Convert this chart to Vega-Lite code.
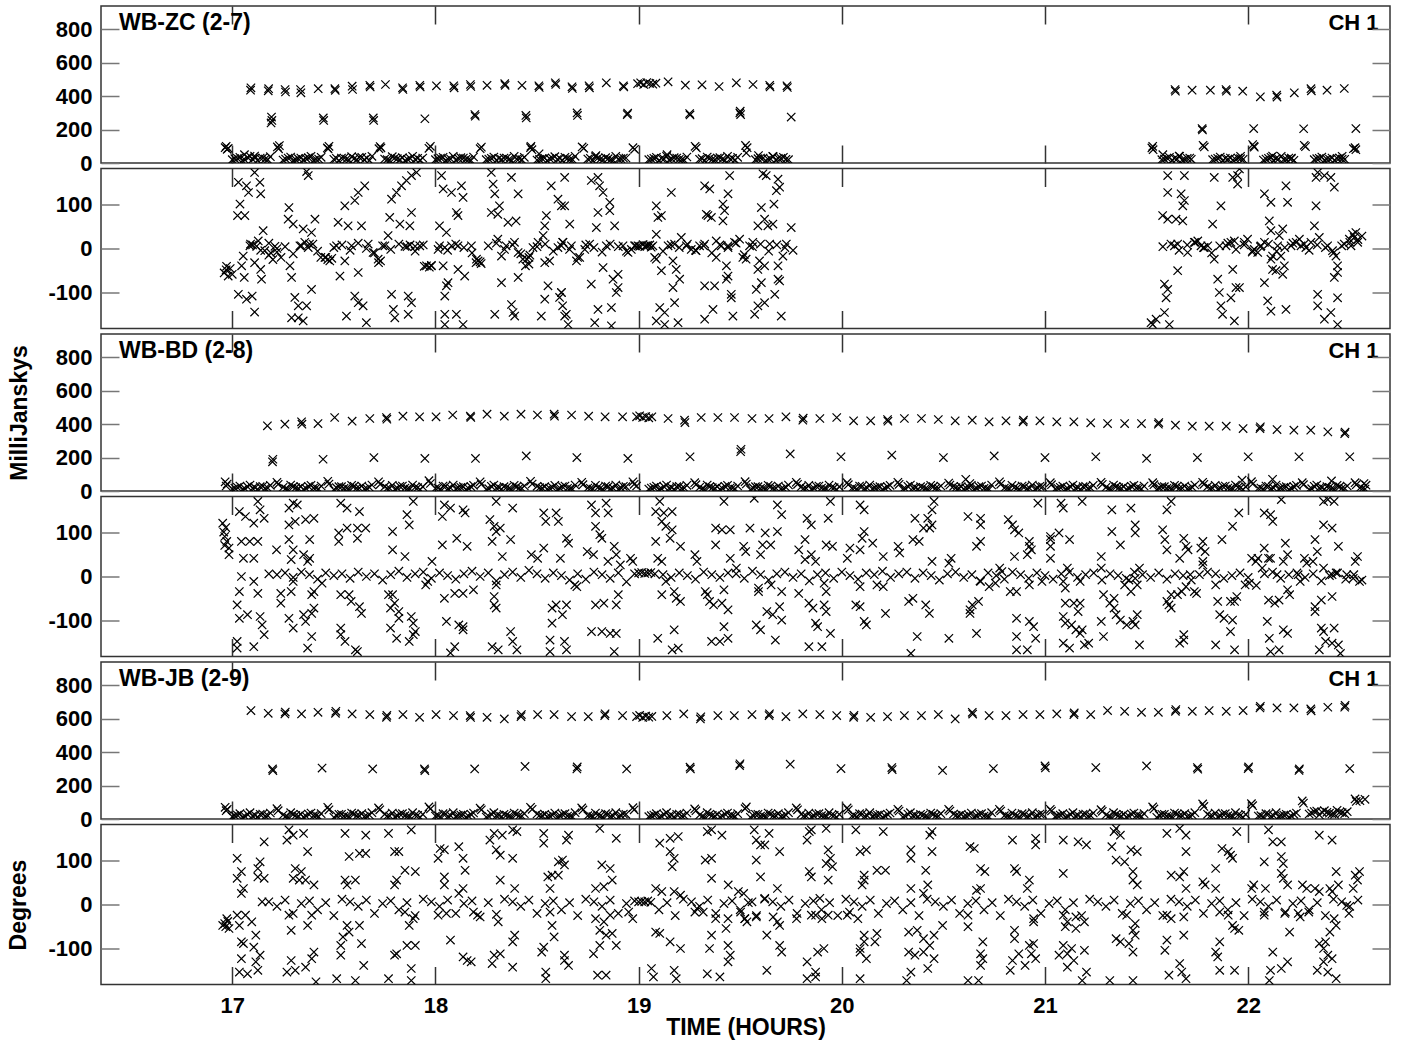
{
"$schema":"https://vega.github.io/schema/vega-lite/v6.json",
"background":"#ffffff",
"padding":{"left":7,"right":11,"top":4,"bottom":5},
"config":{
"view":{"stroke":"#333333","strokeWidth":1.5},
"axis":{"tickSize":-18,"tickWidth":1.5,"domain":false,"grid":false,"labelFont":"Liberation Sans","labelFontSize":22,"labelFontWeight":"bold","labelColor":"#000000","titleFont":"Liberation Sans","titleFontSize":23,"titleFontWeight":"bold","titleColor":"#000000"}
},
"datasets":{
"za":[
{"t":16.965,"v":92},{"t":16.975,"v":82},{"t":16.97,"v":100},{"t":16.98,"v":88},{"t":17.222,"v":96},{"t":17.228,"v":85},{"t":17.232,"v":104},{"t":17.468,"v":90},{"t":17.476,"v":100},{"t":17.472,"v":84},{"t":17.722,"v":86},{"t":17.728,"v":98},{"t":17.732,"v":90},{"t":17.968,"v":88},{"t":17.975,"v":100},{"t":18.22,"v":86},{"t":18.226,"v":95},{"t":18.468,"v":92},{"t":18.475,"v":80},{"t":18.47,"v":100},{"t":18.722,"v":96},{"t":18.73,"v":88},{"t":18.972,"v":92},{"t":18.98,"v":82},{"t":19.278,"v":100},{"t":19.284,"v":90},{"t":19.526,"v":105},{"t":19.534,"v":92},{"t":19.53,"v":60},{"t":21.526,"v":90},{"t":21.532,"v":80},{"t":21.53,"v":100},{"t":21.778,"v":106},{"t":21.784,"v":96},{"t":22.022,"v":110},{"t":22.028,"v":100},{"t":22.03,"v":95},{"t":22.276,"v":106},{"t":22.282,"v":98},{"t":22.518,"v":86},{"t":22.526,"v":92},{"t":22.53,"v":80},
{"t":17.0,"v":20},{"t":17.025,"v":28},{"t":17.05,"v":14},{"t":17.075,"v":34},{"t":17.1,"v":22},{"t":17.125,"v":16},{"t":17.15,"v":30},{"t":17.175,"v":20},{"t":17.06,"v":50},{"t":17.11,"v":42},
{"t":17.25,"v":18},{"t":17.275,"v":30},{"t":17.3,"v":14},{"t":17.325,"v":26},{"t":17.35,"v":20},{"t":17.375,"v":32},{"t":17.4,"v":16},{"t":17.425,"v":24},
{"t":17.5,"v":22},{"t":17.525,"v":14},{"t":17.55,"v":30},{"t":17.575,"v":18},{"t":17.6,"v":26},{"t":17.625,"v":34},{"t":17.65,"v":20},{"t":17.675,"v":15},
{"t":17.75,"v":24},{"t":17.775,"v":16},{"t":17.8,"v":30},{"t":17.825,"v":20},{"t":17.85,"v":14},{"t":17.875,"v":28},{"t":17.9,"v":22},{"t":17.925,"v":18},
{"t":18.0,"v":20},{"t":18.025,"v":30},{"t":18.05,"v":14},{"t":18.075,"v":24},{"t":18.1,"v":18},{"t":18.125,"v":32},{"t":18.15,"v":22},{"t":18.175,"v":15},
{"t":18.25,"v":20},{"t":18.275,"v":28},{"t":18.3,"v":16},{"t":18.325,"v":22},{"t":18.35,"v":30},{"t":18.375,"v":14},{"t":18.4,"v":24},{"t":18.425,"v":20},
{"t":18.5,"v":18},{"t":18.525,"v":26},{"t":18.55,"v":14},{"t":18.575,"v":30},{"t":18.6,"v":22},{"t":18.625,"v":16},{"t":18.65,"v":28},{"t":18.675,"v":20},{"t":18.51,"v":55},
{"t":18.75,"v":24},{"t":18.775,"v":14},{"t":18.8,"v":30},{"t":18.825,"v":20},{"t":18.85,"v":26},{"t":18.875,"v":16},{"t":18.9,"v":22},{"t":18.925,"v":30},{"t":18.79,"v":45},
{"t":19.05,"v":20},{"t":19.075,"v":28},{"t":19.1,"v":14},{"t":19.125,"v":24},{"t":19.15,"v":18},{"t":19.175,"v":32},{"t":19.2,"v":22},{"t":19.225,"v":16},{"t":19.14,"v":50},
{"t":19.3,"v":22},{"t":19.325,"v":14},{"t":19.35,"v":28},{"t":19.375,"v":20},{"t":19.4,"v":32},{"t":19.425,"v":16},{"t":19.45,"v":24},{"t":19.475,"v":18},
{"t":19.575,"v":20},{"t":19.6,"v":30},{"t":19.625,"v":14},{"t":19.65,"v":24},{"t":19.675,"v":18},{"t":19.7,"v":28},{"t":19.725,"v":22},{"t":19.59,"v":45},{"t":19.66,"v":40},
{"t":21.575,"v":20},{"t":21.6,"v":30},{"t":21.625,"v":16},{"t":21.65,"v":24},{"t":21.675,"v":18},{"t":21.7,"v":28},{"t":21.72,"v":22},{"t":21.58,"v":50},{"t":21.66,"v":42},
{"t":21.825,"v":20},{"t":21.85,"v":28},{"t":21.875,"v":14},{"t":21.9,"v":24},{"t":21.925,"v":18},{"t":21.95,"v":30},{"t":21.975,"v":22},
{"t":22.075,"v":18},{"t":22.1,"v":28},{"t":22.125,"v":14},{"t":22.15,"v":24},{"t":22.175,"v":20},{"t":22.2,"v":30},{"t":22.225,"v":16},{"t":22.12,"v":42},
{"t":22.325,"v":20},{"t":22.35,"v":28},{"t":22.375,"v":16},{"t":22.4,"v":24},{"t":22.425,"v":18},{"t":22.45,"v":30},{"t":22.475,"v":22},
{"t":17.0125,"v":26},{"t":17.0625,"v":18},{"t":17.1125,"v":30},{"t":17.1625,"v":24},{"t":17.2625,"v":24},{"t":17.3125,"v":20},{"t":17.3625,"v":28},{"t":17.4125,"v":22},{"t":17.5125,"v":28},{"t":17.5625,"v":24},{"t":17.6125,"v":20},{"t":17.6625,"v":30},{"t":17.7625,"v":20},{"t":17.8125,"v":26},{"t":17.8625,"v":22},{"t":17.9125,"v":28},{"t":18.0125,"v":26},{"t":18.0625,"v":22},{"t":18.1125,"v":28},{"t":18.1625,"v":20},{"t":18.2625,"v":24},{"t":18.3125,"v":28},{"t":18.3625,"v":22},{"t":18.4125,"v":26},{"t":18.5125,"v":22},{"t":18.5625,"v":26},{"t":18.6125,"v":28},{"t":18.6625,"v":22},{"t":18.7625,"v":28},{"t":18.8125,"v":24},{"t":18.8625,"v":20},{"t":18.9125,"v":26},{"t":19.0625,"v":24},{"t":19.1125,"v":28},{"t":19.1625,"v":26},{"t":19.2125,"v":20},{"t":19.3125,"v":26},{"t":19.3625,"v":22},{"t":19.4125,"v":24},{"t":19.4625,"v":28},{"t":19.5875,"v":26},{"t":19.6375,"v":22},{"t":19.6875,"v":28},{"t":19.7375,"v":20},{"t":21.5875,"v":24},{"t":21.6375,"v":28},{"t":21.6875,"v":22},{"t":21.8375,"v":24},{"t":21.8875,"v":28},{"t":21.9375,"v":22},{"t":21.9625,"v":26},{"t":22.0875,"v":24},{"t":22.1375,"v":28},{"t":22.1875,"v":22},{"t":22.2125,"v":26},{"t":22.3375,"v":26},{"t":22.3875,"v":22},{"t":22.4375,"v":28},{"t":22.4625,"v":24},
{"t":17.0375,"v":34},{"t":17.0875,"v":40},{"t":17.1375,"v":30},{"t":17.1875,"v":38},{"t":17.2875,"v":36},{"t":17.3375,"v":30},{"t":17.3875,"v":40},{"t":17.4375,"v":34},{"t":17.5375,"v":30},{"t":17.5875,"v":38},{"t":17.6375,"v":34},{"t":17.6875,"v":40},{"t":17.7875,"v":38},{"t":17.8375,"v":32},{"t":17.8875,"v":40},{"t":17.9375,"v":30},{"t":18.0375,"v":34},{"t":18.0875,"v":40},{"t":18.1375,"v":30},{"t":18.1875,"v":36},{"t":18.2875,"v":36},{"t":18.3375,"v":30},{"t":18.3875,"v":40},{"t":18.4375,"v":34},{"t":18.5375,"v":30},{"t":18.5875,"v":38},{"t":18.6375,"v":34},{"t":18.6875,"v":40},{"t":18.7875,"v":38},{"t":18.8375,"v":32},{"t":18.8875,"v":40},{"t":18.9375,"v":30},{"t":19.0875,"v":34},{"t":19.1375,"v":40},{"t":19.1875,"v":30},{"t":19.2375,"v":36},{"t":19.3375,"v":36},{"t":19.3875,"v":30},{"t":19.4375,"v":40},{"t":19.4875,"v":34},{"t":19.6125,"v":30},{"t":19.6625,"v":38},{"t":19.7125,"v":34},{"t":21.6125,"v":34},{"t":21.6625,"v":40},{"t":21.7125,"v":30},{"t":21.8625,"v":36},{"t":21.9125,"v":30},{"t":21.9625,"v":40},{"t":22.1125,"v":34},{"t":22.1625,"v":40},{"t":22.2125,"v":30},{"t":22.3625,"v":36},{"t":22.4125,"v":30},{"t":22.4625,"v":40},
{"t":17.09,"v":436},{"t":17.092,"v":450},{"t":17.177,"v":432},{"t":17.179,"v":445},{"t":17.26,"v":440},{"t":17.262,"v":425},{"t":17.336,"v":440},{"t":17.338,"v":420},{"t":17.423,"v":445},{"t":17.505,"v":445},{"t":17.507,"v":435},{"t":17.59,"v":460},{"t":17.592,"v":440},{"t":17.677,"v":465},{"t":17.679,"v":455},{"t":17.754,"v":470},{"t":17.838,"v":450},{"t":17.84,"v":440},{"t":17.923,"v":465},{"t":17.925,"v":455},{"t":18.005,"v":462},{"t":18.09,"v":462},{"t":18.092,"v":450},{"t":18.172,"v":470},{"t":18.174,"v":458},{"t":18.254,"v":465},{"t":18.341,"v":475},{"t":18.343,"v":465},{"t":18.426,"v":465},{"t":18.509,"v":462},{"t":18.511,"v":452},{"t":18.59,"v":480},{"t":18.592,"v":470},{"t":18.672,"v":456},{"t":18.674,"v":446},{"t":18.756,"v":462},{"t":18.758,"v":450},{"t":18.841,"v":480},{"t":18.925,"v":462},{"t":18.927,"v":455},{"t":18.995,"v":475},{"t":19.01,"v":480},{"t":19.025,"v":470},{"t":19.04,"v":482},{"t":19.055,"v":476},{"t":19.07,"v":472},{"t":19.085,"v":478},{"t":19.145,"v":486},{"t":19.23,"v":466},{"t":19.312,"v":468},{"t":19.396,"v":458},{"t":19.481,"v":480},{"t":19.563,"v":470},{"t":19.645,"v":465},{"t":19.647,"v":455},{"t":19.73,"v":462},{"t":19.732,"v":452},
{"t":21.64,"v":440},{"t":21.642,"v":430},{"t":21.724,"v":436},{"t":21.814,"v":436},{"t":21.891,"v":440},{"t":21.893,"v":430},{"t":21.973,"v":430},{"t":22.06,"v":396},{"t":22.14,"v":406},{"t":22.142,"v":395},{"t":22.227,"v":420},{"t":22.309,"v":445},{"t":22.311,"v":432},{"t":22.388,"v":436},{"t":22.473,"v":446},
{"t":17.193,"v":275},{"t":17.195,"v":255},{"t":17.191,"v":240},{"t":17.448,"v":270},{"t":17.45,"v":255},{"t":17.694,"v":270},{"t":17.696,"v":255},{"t":17.948,"v":265},{"t":18.194,"v":290},{"t":18.196,"v":280},{"t":18.445,"v":285},{"t":18.447,"v":270},{"t":18.697,"v":300},{"t":18.699,"v":285},{"t":18.944,"v":290},{"t":18.946,"v":298},{"t":19.251,"v":296},{"t":19.253,"v":288},{"t":19.5,"v":310},{"t":19.502,"v":290},{"t":19.498,"v":300},{"t":19.751,"v":275},{"t":21.773,"v":206},{"t":21.775,"v":198},{"t":22.027,"v":206},{"t":22.273,"v":205},{"t":22.53,"v":206}
],
"zp":[
{"t":16.96,"v":-55},{"t":16.97,"v":-48},{"t":16.98,"v":-62},{"t":16.99,"v":-45},{"t":16.972,"v":-40},{"t":17.0,"v":-58},
{"t":17.03,"v":149},{"t":17.07,"v":141},{"t":17.08,"v":126},{"t":17.11,"v":171},{"t":17.136,"v":149},{"t":17.14,"v":123},{"t":17.038,"v":100},{"t":17.026,"v":74},{"t":17.062,"v":74},{"t":17.054,"v":-17},{"t":17.046,"v":-39},{"t":17.059,"v":-65},{"t":17.087,"v":6},{"t":17.11,"v":-32},{"t":17.14,"v":-47},{"t":17.144,"v":-69},{"t":17.152,"v":40},{"t":17.03,"v":-103},{"t":17.07,"v":-114},{"t":17.098,"v":-107},{"t":17.11,"v":-143},{"t":17.128,"v":17},
{"t":17.09,"v":10},{"t":17.12,"v":5},{"t":17.16,"v":-5},{"t":17.18,"v":-15},{"t":17.2,"v":-25},{"t":17.22,"v":0},{"t":17.24,"v":-20},{"t":17.19,"v":-10},{"t":17.21,"v":5},
{"t":17.279,"v":92},{"t":17.3,"v":55},{"t":17.374,"v":164},{"t":17.366,"v":173},{"t":17.275,"v":66},{"t":17.284,"v":-39},{"t":17.292,"v":-65},{"t":17.308,"v":-110},{"t":17.325,"v":-129},{"t":17.292,"v":-156},{"t":17.325,"v":-156},{"t":17.349,"v":-163},{"t":17.366,"v":-129},{"t":17.39,"v":-92},{"t":17.407,"v":66},{"t":17.39,"v":36},{"t":17.349,"v":44},{"t":17.333,"v":6},{"t":17.357,"v":14},{"t":17.397,"v":10},{"t":17.374,"v":2},
{"t":17.436,"v":-20},{"t":17.456,"v":-20},{"t":17.47,"v":-25},{"t":17.48,"v":-28},{"t":17.49,"v":-22},{"t":17.513,"v":6},{"t":17.53,"v":-62},{"t":17.554,"v":96},{"t":17.587,"v":6},{"t":17.603,"v":108},{"t":17.62,"v":126},{"t":17.652,"v":141},{"t":17.521,"v":59},{"t":17.57,"v":51},{"t":17.636,"v":51},{"t":17.554,"v":-28},{"t":17.62,"v":-54},{"t":17.603,"v":-107},{"t":17.62,"v":-122},{"t":17.644,"v":-129},{"t":17.562,"v":-152},{"t":17.66,"v":-167},
{"t":17.669,"v":10},{"t":17.693,"v":-9},{"t":17.718,"v":-24},{"t":17.73,"v":-28},{"t":17.72,"v":-32},{"t":17.751,"v":6},{"t":17.767,"v":29},{"t":17.775,"v":70},{"t":17.784,"v":111},{"t":17.808,"v":126},{"t":17.833,"v":141},{"t":17.857,"v":153},{"t":17.882,"v":164},{"t":17.907,"v":171},{"t":17.825,"v":55},{"t":17.874,"v":51},{"t":17.882,"v":81},{"t":17.784,"v":-103},{"t":17.793,"v":-137},{"t":17.8,"v":-156},{"t":17.866,"v":-107},{"t":17.882,"v":-122},{"t":17.866,"v":-148},{"t":17.85,"v":5},{"t":17.875,"v":8},{"t":17.9,"v":5},{"t":17.923,"v":6},{"t":17.956,"v":-39},{"t":17.98,"v":-39},{"t":17.97,"v":-42},{"t":17.945,"v":-40},
{"t":18.03,"v":164},{"t":18.038,"v":134},{"t":18.079,"v":126},{"t":18.128,"v":141},{"t":18.136,"v":115},{"t":18.103,"v":81},{"t":18.111,"v":74},{"t":18.02,"v":51},{"t":18.054,"v":36},{"t":18.079,"v":6},{"t":18.111,"v":6},{"t":18.013,"v":-2},{"t":18.046,"v":2},{"t":18.038,"v":-39},{"t":18.062,"v":-77},{"t":18.054,"v":-84},{"t":18.046,"v":-107},{"t":18.111,"v":-47},{"t":18.144,"v":-62},{"t":18.046,"v":-148},{"t":18.103,"v":-148},{"t":18.136,"v":-171},{"t":18.046,"v":-171},
{"t":18.177,"v":6},{"t":18.202,"v":-24},{"t":18.21,"v":-28},{"t":18.2,"v":-32},{"t":18.225,"v":-34},{"t":18.275,"v":171},{"t":18.284,"v":145},{"t":18.374,"v":160},{"t":18.292,"v":123},{"t":18.275,"v":81},{"t":18.307,"v":77},{"t":18.315,"v":96},{"t":18.357,"v":59},{"t":18.397,"v":62},{"t":18.407,"v":123},{"t":18.307,"v":21},{"t":18.348,"v":6},{"t":18.389,"v":14},{"t":18.407,"v":-9},{"t":18.43,"v":-24},{"t":18.45,"v":-24},{"t":18.465,"v":-15},{"t":18.48,"v":2},{"t":18.443,"v":-39},{"t":18.46,"v":-35},{"t":18.505,"v":14},{"t":18.53,"v":29},{"t":18.538,"v":51},{"t":18.546,"v":74},{"t":18.57,"v":141},{"t":18.603,"v":111},{"t":18.636,"v":96},{"t":18.538,"v":-32},{"t":18.562,"v":-28},{"t":18.603,"v":2},{"t":18.626,"v":14},{"t":18.325,"v":-17},{"t":18.325,"v":-77},{"t":18.407,"v":-65},{"t":18.374,"v":-126},{"t":18.382,"v":-144},{"t":18.39,"v":-152},{"t":18.292,"v":-148},{"t":18.538,"v":-114},{"t":18.554,"v":-84},{"t":18.521,"v":-152},{"t":18.62,"v":-99},{"t":18.626,"v":-129},{"t":18.636,"v":-152},{"t":18.611,"v":-110},
{"t":18.636,"v":160},{"t":18.62,"v":96},{"t":18.661,"v":55},{"t":18.628,"v":14},{"t":18.669,"v":6},{"t":18.694,"v":-28},{"t":18.71,"v":-20},{"t":18.735,"v":-2},{"t":18.759,"v":10},{"t":18.767,"v":153},{"t":18.8,"v":160},{"t":18.808,"v":141},{"t":18.825,"v":126},{"t":18.858,"v":104},{"t":18.858,"v":85},{"t":18.8,"v":81},{"t":18.792,"v":47},{"t":18.882,"v":51},{"t":18.825,"v":-43},{"t":18.767,"v":-80},{"t":18.874,"v":-69},{"t":18.899,"v":-88},{"t":18.89,"v":-99},{"t":18.899,"v":-58},{"t":18.62,"v":-99},{"t":18.644,"v":-148},{"t":18.653,"v":-171},{"t":18.8,"v":-137},{"t":18.784,"v":-167},{"t":18.866,"v":-174},{"t":18.866,"v":-133},{"t":18.841,"v":6},{"t":18.923,"v":6},{"t":18.948,"v":-9},{"t":18.964,"v":-2},{"t":18.98,"v":6},{"t":18.997,"v":6},{"t":19.022,"v":9},{"t":19.038,"v":6},{"t":19.055,"v":8},{"t":19.07,"v":6},{"t":19.079,"v":-20},{"t":19.087,"v":32},{"t":19.095,"v":70},{"t":19.112,"v":74},{"t":19.087,"v":96},{"t":19.161,"v":126},{"t":19.087,"v":-24},{"t":19.112,"v":-50},{"t":19.169,"v":-28},{"t":19.185,"v":-47},{"t":19.202,"v":-69},{"t":19.169,"v":-88},{"t":19.177,"v":-122},{"t":19.104,"v":-133},{"t":19.128,"v":-144},{"t":19.087,"v":-163},{"t":19.128,"v":-171},{"t":19.194,"v":-167},{"t":19.145,"v":6},{"t":19.177,"v":10},{"t":19.21,"v":25},{"t":19.235,"v":6},{"t":19.259,"v":-2},{"t":19.283,"v":-5},{"t":19.3,"v":6},{"t":19.325,"v":10},{"t":19.325,"v":141},{"t":19.35,"v":134},{"t":19.341,"v":74},{"t":19.358,"v":70},{"t":19.333,"v":77},{"t":19.415,"v":100},{"t":19.423,"v":85},{"t":19.44,"v":123},{"t":19.448,"v":164},{"t":19.415,"v":62},{"t":19.382,"v":17},{"t":19.407,"v":6},{"t":19.44,"v":6},{"t":19.472,"v":14},{"t":19.497,"v":21},{"t":19.382,"v":-20},{"t":19.432,"v":-39},{"t":19.44,"v":-62},{"t":19.432,"v":-69},{"t":19.325,"v":-84},{"t":19.374,"v":-84},{"t":19.456,"v":-103},{"t":19.456,"v":-111},{"t":19.366,"v":-137},{"t":19.325,"v":-159},{"t":19.464,"v":-152},{"t":19.513,"v":-20},{"t":19.529,"v":-24},{"t":19.546,"v":6},{"t":19.562,"v":14},{"t":19.587,"v":51},{"t":19.604,"v":92},{"t":19.62,"v":66},{"t":19.636,"v":51},{"t":19.661,"v":55},{"t":19.666,"v":100},{"t":19.612,"v":168},{"t":19.628,"v":164},{"t":19.686,"v":156},{"t":19.694,"v":138},{"t":19.678,"v":130},{"t":19.645,"v":10},{"t":19.686,"v":-39},{"t":19.71,"v":-17},{"t":19.727,"v":10},{"t":19.751,"v":47},{"t":19.595,"v":-28},{"t":19.587,"v":-47},{"t":19.62,"v":-39},{"t":19.579,"v":-92},{"t":19.604,"v":-77},{"t":19.62,"v":-122},{"t":19.587,"v":-129},{"t":19.67,"v":-103},{"t":19.694,"v":-73},{"t":19.686,"v":-69},{"t":19.702,"v":-152},{"t":19.571,"v":-148},
{"t":21.53,"v":-171},{"t":21.522,"v":-167},{"t":21.547,"v":-159},{"t":21.588,"v":-144},{"t":21.612,"v":-171},{"t":21.596,"v":-111},{"t":21.604,"v":-92},{"t":21.588,"v":-80},{"t":21.653,"v":-50},{"t":21.579,"v":74},{"t":21.604,"v":66},{"t":21.645,"v":66},{"t":21.678,"v":62},{"t":21.604,"v":126},{"t":21.67,"v":123},{"t":21.686,"v":108},{"t":21.678,"v":96},{"t":21.604,"v":164},{"t":21.686,"v":164},{"t":21.637,"v":6},{"t":21.653,"v":10},{"t":21.702,"v":-9},{"t":21.735,"v":14},{"t":21.752,"v":17},{"t":21.768,"v":6},{"t":21.784,"v":2},{"t":21.801,"v":6},{"t":21.833,"v":-24},{"t":21.825,"v":55},{"t":21.833,"v":160},{"t":21.866,"v":96},{"t":21.85,"v":-69},{"t":21.858,"v":-99},{"t":21.866,"v":-129},{"t":21.874,"v":-148},{"t":21.891,"v":6},{"t":21.915,"v":14},{"t":21.932,"v":17},{"t":21.94,"v":-88},{"t":21.915,"v":-111},{"t":21.957,"v":-88},{"t":21.924,"v":-47},{"t":21.932,"v":-163},{"t":21.924,"v":160},{"t":21.948,"v":164},{"t":21.957,"v":179},{"t":21.948,"v":145},{"t":21.981,"v":14},{"t":21.997,"v":21},{"t":22.022,"v":-5},{"t":22.03,"v":-2},{"t":22.047,"v":-9},{"t":22.063,"v":6},{"t":22.08,"v":14},{"t":22.104,"v":62},{"t":22.112,"v":40},{"t":22.08,"v":123},{"t":22.112,"v":104},{"t":22.186,"v":141},{"t":22.194,"v":104},{"t":22.17,"v":44},{"t":22.153,"v":29},{"t":22.145,"v":6},{"t":22.12,"v":-17},{"t":22.112,"v":-24},{"t":22.161,"v":-17},{"t":22.12,"v":-47},{"t":22.137,"v":-50},{"t":22.178,"v":-39},{"t":22.17,"v":-58},{"t":22.08,"v":-77},{"t":22.096,"v":-118},{"t":22.112,"v":-141},{"t":22.186,"v":-137},{"t":22.211,"v":6},{"t":22.236,"v":14},{"t":22.252,"v":21},{"t":22.276,"v":10},{"t":22.284,"v":2},{"t":22.309,"v":14},{"t":22.326,"v":51},{"t":22.334,"v":160},{"t":22.342,"v":171},{"t":22.375,"v":164},{"t":22.407,"v":160},{"t":22.424,"v":138},{"t":22.334,"v":96},{"t":22.35,"v":25},{"t":22.391,"v":6},{"t":22.415,"v":-5},{"t":22.432,"v":-17},{"t":22.44,"v":-39},{"t":22.424,"v":-65},{"t":22.44,"v":-54},{"t":22.342,"v":-103},{"t":22.342,"v":-129},{"t":22.44,"v":-111},{"t":22.375,"v":-159},{"t":22.407,"v":-144},{"t":22.44,"v":-171},{"t":22.473,"v":10},{"t":22.498,"v":21},{"t":22.514,"v":32},{"t":22.53,"v":36},{"t":22.539,"v":14},{"t":22.506,"v":6},{"t":22.522,"v":25},
{"t":17.1,"v":8},{"t":17.14,"v":-4},{"t":17.18,"v":12},{"t":17.22,"v":-8},{"t":17.26,"v":4},{"t":17.3,"v":-12},{"t":17.34,"v":6},{"t":17.38,"v":10},{"t":17.42,"v":-6},{"t":17.46,"v":-20},{"t":17.5,"v":2},{"t":17.54,"v":8},{"t":17.58,"v":-4},{"t":17.62,"v":12},{"t":17.66,"v":0},{"t":17.7,"v":-10},{"t":17.74,"v":6},{"t":17.78,"v":-2},{"t":17.82,"v":10},{"t":17.86,"v":4},{"t":17.9,"v":-6},{"t":17.94,"v":8},{"t":17.98,"v":-38},{"t":18.02,"v":6},{"t":18.06,"v":-4},{"t":18.1,"v":10},{"t":18.14,"v":2},{"t":18.18,"v":-10},{"t":18.22,"v":-30},{"t":18.26,"v":6},{"t":18.3,"v":12},{"t":18.34,"v":-2},{"t":18.38,"v":8},{"t":18.42,"v":-12},{"t":18.46,"v":-20},{"t":18.5,"v":4},{"t":18.54,"v":10},{"t":18.58,"v":-6},{"t":18.62,"v":6},{"t":18.66,"v":-2},{"t":18.7,"v":-20},{"t":18.74,"v":8},{"t":18.78,"v":2},{"t":18.82,"v":-8},{"t":18.86,"v":10},{"t":18.9,"v":4},{"t":18.94,"v":-6},{"t":18.985,"v":6},{"t":19.005,"v":5},{"t":19.03,"v":4},{"t":19.045,"v":7},{"t":19.062,"v":3},{"t":19.12,"v":-6},{"t":19.16,"v":8},{"t":19.2,"v":2},{"t":19.24,"v":10},{"t":19.28,"v":-4},{"t":19.32,"v":6},{"t":19.36,"v":-10},{"t":19.4,"v":8},{"t":19.44,"v":2},{"t":19.48,"v":12},{"t":19.52,"v":-14},{"t":19.56,"v":4},{"t":19.6,"v":10},{"t":19.64,"v":-6},{"t":19.68,"v":8},{"t":19.72,"v":2},{"t":19.76,"v":-4},
{"t":21.58,"v":4},{"t":21.62,"v":10},{"t":21.66,"v":-4},{"t":21.7,"v":8},{"t":21.74,"v":14},{"t":21.78,"v":2},{"t":21.82,"v":-10},{"t":21.86,"v":6},{"t":21.9,"v":12},{"t":21.94,"v":-2},{"t":21.98,"v":8},{"t":22.02,"v":-8},{"t":22.06,"v":4},{"t":22.1,"v":10},{"t":22.14,"v":-6},{"t":22.18,"v":2},{"t":22.22,"v":12},{"t":22.26,"v":6},{"t":22.3,"v":-4},{"t":22.34,"v":8},{"t":22.38,"v":2},{"t":22.42,"v":-10},{"t":22.46,"v":6},{"t":22.5,"v":14},{"t":22.54,"v":20},{"t":22.56,"v":28}
],
"ba":[
{"t":16.965,"v":55},{"t":16.975,"v":42},{"t":16.97,"v":30},{"t":17.22,"v":52},{"t":17.226,"v":40},{"t":17.47,"v":58},{"t":17.476,"v":42},{"t":17.72,"v":55},{"t":17.728,"v":40},{"t":17.968,"v":62},{"t":17.975,"v":45},{"t":18.22,"v":55},{"t":18.226,"v":40},{"t":18.468,"v":58},{"t":18.476,"v":42},{"t":18.72,"v":52},{"t":18.726,"v":38},{"t":18.972,"v":55},{"t":18.978,"v":40},{"t":18.99,"v":30},{"t":19.276,"v":50},{"t":19.282,"v":38},{"t":19.524,"v":56},{"t":19.53,"v":42},{"t":19.776,"v":52},{"t":19.782,"v":40},{"t":20.026,"v":50},{"t":20.032,"v":38},{"t":20.276,"v":52},{"t":20.282,"v":40},{"t":20.526,"v":48},{"t":20.532,"v":36},{"t":20.776,"v":55},{"t":20.782,"v":40},{"t":21.026,"v":50},{"t":21.032,"v":38},{"t":21.276,"v":52},{"t":21.282,"v":40},{"t":21.53,"v":50},{"t":21.536,"v":38},{"t":21.776,"v":52},{"t":21.782,"v":40},{"t":22.016,"v":56},{"t":22.022,"v":42},{"t":22.266,"v":50},{"t":22.272,"v":38},{"t":22.526,"v":50},{"t":22.532,"v":38},{"t":22.57,"v":45},{"t":22.58,"v":35},{"t":20.61,"v":70},{"t":20.63,"v":45},{"t":21.97,"v":65},{"t":22.12,"v":70},{"t":22.41,"v":60},
{"t":17.0,"v":12},{"t":17.025,"v":22},{"t":17.05,"v":8},{"t":17.075,"v":26},{"t":17.1,"v":16},{"t":17.125,"v":10},{"t":17.15,"v":28},{"t":17.175,"v":18},
{"t":17.25,"v":22},{"t":17.275,"v":8},{"t":17.3,"v":26},{"t":17.325,"v":16},{"t":17.35,"v":10},{"t":17.375,"v":28},{"t":17.4,"v":18},{"t":17.425,"v":12},
{"t":17.5,"v":8},{"t":17.525,"v":26},{"t":17.55,"v":16},{"t":17.575,"v":10},{"t":17.6,"v":28},{"t":17.625,"v":18},{"t":17.65,"v":12},{"t":17.675,"v":22},
{"t":17.75,"v":26},{"t":17.775,"v":16},{"t":17.8,"v":10},{"t":17.825,"v":28},{"t":17.85,"v":18},{"t":17.875,"v":12},{"t":17.9,"v":22},{"t":17.925,"v":8},
{"t":18.0,"v":16},{"t":18.025,"v":10},{"t":18.05,"v":28},{"t":18.075,"v":18},{"t":18.1,"v":12},{"t":18.125,"v":22},{"t":18.15,"v":8},{"t":18.175,"v":26},
{"t":18.25,"v":10},{"t":18.275,"v":28},{"t":18.3,"v":18},{"t":18.325,"v":12},{"t":18.35,"v":22},{"t":18.375,"v":8},{"t":18.4,"v":26},{"t":18.425,"v":16},
{"t":18.5,"v":28},{"t":18.525,"v":18},{"t":18.55,"v":12},{"t":18.575,"v":22},{"t":18.6,"v":8},{"t":18.625,"v":26},{"t":18.65,"v":16},{"t":18.675,"v":10},
{"t":18.75,"v":18},{"t":18.775,"v":12},{"t":18.8,"v":22},{"t":18.825,"v":8},{"t":18.85,"v":26},{"t":18.875,"v":16},{"t":18.9,"v":10},{"t":18.925,"v":28},
{"t":19.05,"v":12},{"t":19.075,"v":22},{"t":19.1,"v":8},{"t":19.125,"v":26},{"t":19.15,"v":16},{"t":19.175,"v":10},{"t":19.2,"v":28},{"t":19.225,"v":18},
{"t":19.3,"v":22},{"t":19.325,"v":8},{"t":19.35,"v":26},{"t":19.375,"v":16},{"t":19.4,"v":10},{"t":19.425,"v":28},{"t":19.45,"v":18},{"t":19.475,"v":12},
{"t":19.55,"v":8},{"t":19.575,"v":26},{"t":19.6,"v":16},{"t":19.625,"v":10},{"t":19.65,"v":28},{"t":19.675,"v":18},{"t":19.7,"v":12},{"t":19.725,"v":22},
{"t":19.8,"v":26},{"t":19.825,"v":16},{"t":19.85,"v":10},{"t":19.875,"v":28},{"t":19.9,"v":18},{"t":19.925,"v":12},{"t":19.95,"v":22},{"t":19.975,"v":8},
{"t":20.05,"v":16},{"t":20.075,"v":10},{"t":20.1,"v":28},{"t":20.125,"v":18},{"t":20.15,"v":12},{"t":20.175,"v":22},{"t":20.2,"v":8},{"t":20.225,"v":26},
{"t":20.3,"v":10},{"t":20.325,"v":28},{"t":20.35,"v":18},{"t":20.375,"v":12},{"t":20.4,"v":22},{"t":20.425,"v":8},{"t":20.45,"v":26},{"t":20.475,"v":16},
{"t":20.55,"v":28},{"t":20.575,"v":18},{"t":20.6,"v":12},{"t":20.625,"v":22},{"t":20.65,"v":8},{"t":20.675,"v":26},{"t":20.7,"v":16},{"t":20.725,"v":10},
{"t":20.8,"v":18},{"t":20.825,"v":12},{"t":20.85,"v":22},{"t":20.875,"v":8},{"t":20.9,"v":26},{"t":20.925,"v":16},{"t":20.95,"v":10},{"t":20.975,"v":28},
{"t":21.05,"v":12},{"t":21.075,"v":22},{"t":21.1,"v":8},{"t":21.125,"v":26},{"t":21.15,"v":16},{"t":21.175,"v":10},{"t":21.2,"v":28},{"t":21.225,"v":18},
{"t":21.3,"v":22},{"t":21.325,"v":8},{"t":21.35,"v":26},{"t":21.375,"v":16},{"t":21.4,"v":10},{"t":21.425,"v":28},{"t":21.45,"v":18},{"t":21.475,"v":12},
{"t":21.55,"v":8},{"t":21.575,"v":26},{"t":21.6,"v":16},{"t":21.625,"v":10},{"t":21.65,"v":28},{"t":21.675,"v":18},{"t":21.7,"v":12},{"t":21.725,"v":22},
{"t":21.8,"v":26},{"t":21.825,"v":16},{"t":21.85,"v":10},{"t":21.875,"v":28},{"t":21.9,"v":18},{"t":21.925,"v":12},{"t":21.95,"v":22},{"t":21.975,"v":8},
{"t":22.05,"v":16},{"t":22.075,"v":10},{"t":22.1,"v":28},{"t":22.125,"v":18},{"t":22.15,"v":12},{"t":22.175,"v":22},{"t":22.2,"v":8},{"t":22.225,"v":26},
{"t":22.3,"v":10},{"t":22.325,"v":28},{"t":22.35,"v":18},{"t":22.375,"v":12},{"t":22.4,"v":22},{"t":22.425,"v":8},{"t":22.45,"v":26},{"t":22.475,"v":16},
{"t":22.55,"v":18},{"t":22.575,"v":12},
{"t":17.0125,"v":18},{"t":17.0625,"v":14},{"t":17.1125,"v":20},{"t":17.1625,"v":16},{"t":17.2625,"v":14},{"t":17.3125,"v":20},{"t":17.3625,"v":16},{"t":17.4125,"v":18},{"t":17.5125,"v":20},{"t":17.5625,"v":16},{"t":17.6125,"v":18},{"t":17.6625,"v":14},{"t":17.7625,"v":16},{"t":17.8125,"v":18},{"t":17.8625,"v":14},{"t":17.9125,"v":20},{"t":18.0125,"v":18},{"t":18.0625,"v":14},{"t":18.1125,"v":20},{"t":18.1625,"v":16},{"t":18.2625,"v":14},{"t":18.3125,"v":20},{"t":18.3625,"v":16},{"t":18.4125,"v":18},{"t":18.5125,"v":20},{"t":18.5625,"v":16},{"t":18.6125,"v":18},{"t":18.6625,"v":14},{"t":18.7625,"v":16},{"t":18.8125,"v":18},{"t":18.8625,"v":14},{"t":18.9125,"v":20},{"t":19.0625,"v":18},{"t":19.1125,"v":14},{"t":19.1625,"v":20},{"t":19.2125,"v":16},{"t":19.3125,"v":14},{"t":19.3625,"v":20},{"t":19.4125,"v":16},{"t":19.4625,"v":18},{"t":19.5625,"v":20},{"t":19.6125,"v":16},{"t":19.6625,"v":18},{"t":19.7125,"v":14},{"t":19.8125,"v":16},{"t":19.8625,"v":18},{"t":19.9125,"v":14},{"t":19.9625,"v":20},{"t":20.0625,"v":18},{"t":20.1125,"v":14},{"t":20.1625,"v":20},{"t":20.2125,"v":16},{"t":20.3125,"v":14},{"t":20.3625,"v":20},{"t":20.4125,"v":16},{"t":20.4625,"v":18},{"t":20.5625,"v":20},{"t":20.6125,"v":16},{"t":20.6625,"v":18},{"t":20.7125,"v":14},{"t":20.8125,"v":16},{"t":20.8625,"v":18},{"t":20.9125,"v":14},{"t":20.9625,"v":20},{"t":21.0625,"v":18},{"t":21.1125,"v":14},{"t":21.1625,"v":20},{"t":21.2125,"v":16},{"t":21.3125,"v":14},{"t":21.3625,"v":20},{"t":21.4125,"v":16},{"t":21.4625,"v":18},{"t":21.5625,"v":20},{"t":21.6125,"v":16},{"t":21.6625,"v":18},{"t":21.7125,"v":14},{"t":21.8125,"v":16},{"t":21.8625,"v":18},{"t":21.9125,"v":14},{"t":21.9625,"v":20},{"t":22.0625,"v":18},{"t":22.1125,"v":14},{"t":22.1625,"v":20},{"t":22.2125,"v":16},{"t":22.3125,"v":14},{"t":22.3625,"v":20},{"t":22.4125,"v":16},{"t":22.4625,"v":18},{"t":22.5625,"v":16},
{"t":17.0375,"v":30},{"t":17.0875,"v":36},{"t":17.1375,"v":26},{"t":17.1875,"v":34},{"t":17.2875,"v":36},{"t":17.3375,"v":26},{"t":17.3875,"v":34},{"t":17.4375,"v":30},{"t":17.5375,"v":26},{"t":17.5875,"v":34},{"t":17.6375,"v":30},{"t":17.6875,"v":36},{"t":17.7875,"v":34},{"t":17.8375,"v":30},{"t":17.8875,"v":36},{"t":17.9375,"v":26},{"t":18.0375,"v":30},{"t":18.0875,"v":36},{"t":18.1375,"v":26},{"t":18.1875,"v":34},{"t":18.2875,"v":36},{"t":18.3375,"v":26},{"t":18.3875,"v":34},{"t":18.4375,"v":30},{"t":18.5375,"v":26},{"t":18.5875,"v":34},{"t":18.6375,"v":30},{"t":18.6875,"v":36},{"t":18.7875,"v":34},{"t":18.8375,"v":30},{"t":18.8875,"v":36},{"t":18.9375,"v":26},{"t":19.0875,"v":30},{"t":19.1375,"v":36},{"t":19.1875,"v":26},{"t":19.2375,"v":34},{"t":19.3375,"v":36},{"t":19.3875,"v":26},{"t":19.4375,"v":34},{"t":19.4875,"v":30},{"t":19.5875,"v":26},{"t":19.6375,"v":34},{"t":19.6875,"v":30},{"t":19.7375,"v":36},{"t":19.8375,"v":34},{"t":19.8875,"v":30},{"t":19.9375,"v":36},{"t":19.9875,"v":26},{"t":20.0875,"v":30},{"t":20.1375,"v":36},{"t":20.1875,"v":26},{"t":20.2375,"v":34},{"t":20.3375,"v":36},{"t":20.3875,"v":26},{"t":20.4375,"v":34},{"t":20.4875,"v":30},{"t":20.5875,"v":26},{"t":20.6375,"v":34},{"t":20.6875,"v":30},{"t":20.7375,"v":36},{"t":20.8375,"v":34},{"t":20.8875,"v":30},{"t":20.9375,"v":36},{"t":20.9875,"v":26},{"t":21.0875,"v":30},{"t":21.1375,"v":36},{"t":21.1875,"v":26},{"t":21.2375,"v":34},{"t":21.3375,"v":36},{"t":21.3875,"v":26},{"t":21.4375,"v":34},{"t":21.4875,"v":30},{"t":21.5875,"v":26},{"t":21.6375,"v":34},{"t":21.6875,"v":30},{"t":21.7375,"v":36},{"t":21.8375,"v":34},{"t":21.8875,"v":30},{"t":21.9375,"v":36},{"t":21.9875,"v":26},{"t":22.0875,"v":30},{"t":22.1375,"v":36},{"t":22.1875,"v":26},{"t":22.2375,"v":34},{"t":22.3375,"v":36},{"t":22.3875,"v":26},{"t":22.4375,"v":34},{"t":22.4875,"v":30},
{"t":17.173,"v":390},{"t":17.259,"v":400},{"t":17.341,"v":414},{"t":17.343,"v":400},{"t":17.422,"v":404},{"t":17.504,"v":440},{"t":17.59,"v":418},{"t":17.677,"v":434},{"t":17.759,"v":440},{"t":17.761,"v":430},{"t":17.84,"v":448},{"t":17.922,"v":444},{"t":18.003,"v":444},{"t":18.085,"v":455},{"t":18.172,"v":448},{"t":18.174,"v":440},{"t":18.254,"v":460},{"t":18.339,"v":448},{"t":18.421,"v":460},{"t":18.502,"v":455},{"t":18.584,"v":460},{"t":18.586,"v":448},{"t":18.67,"v":455},{"t":18.754,"v":448},{"t":18.835,"v":444},{"t":18.921,"v":444},{"t":18.99,"v":444},{"t":19.005,"v":450},{"t":19.02,"v":440},{"t":19.035,"v":446},{"t":19.05,"v":438},{"t":19.065,"v":444},{"t":19.145,"v":434},{"t":19.226,"v":424},{"t":19.228,"v":410},{"t":19.308,"v":440},{"t":19.39,"v":440},{"t":19.472,"v":440},
{"t":19.558,"v":434},{"t":19.642,"v":434},{"t":19.725,"v":444},{"t":19.808,"v":424},{"t":19.81,"v":436},{"t":19.892,"v":434},{"t":19.975,"v":440},{"t":20.058,"v":420},{"t":20.142,"v":420},{"t":20.225,"v":428},{"t":20.227,"v":418},{"t":20.308,"v":434},{"t":20.392,"v":434},{"t":20.475,"v":428},{"t":20.558,"v":420},{"t":20.642,"v":424},{"t":20.725,"v":414},{"t":20.808,"v":420},{"t":20.892,"v":414},{"t":20.894,"v":424},{"t":20.975,"v":420},{"t":21.058,"v":414},{"t":21.142,"v":414},{"t":21.225,"v":408},{"t":21.308,"v":404},{"t":21.392,"v":404},{"t":21.475,"v":404},{"t":21.558,"v":400},{"t":21.56,"v":410},{"t":21.642,"v":394},{"t":21.725,"v":388},{"t":21.808,"v":388},{"t":21.892,"v":388},{"t":21.975,"v":374},{"t":22.058,"v":374},{"t":22.06,"v":384},{"t":22.142,"v":368},{"t":22.225,"v":364},{"t":22.308,"v":364},{"t":22.392,"v":354},{"t":22.475,"v":343},{"t":22.477,"v":352},
{"t":17.198,"v":175},{"t":17.2,"v":190},{"t":17.447,"v":190},{"t":17.697,"v":200},{"t":17.948,"v":195},{"t":18.197,"v":195},{"t":18.447,"v":210},{"t":18.696,"v":200},{"t":18.947,"v":195},{"t":19.253,"v":205},{"t":19.502,"v":235},{"t":19.504,"v":250},{"t":19.746,"v":222},{"t":19.996,"v":205},{"t":20.246,"v":215},{"t":20.5,"v":200},{"t":20.75,"v":210},{"t":21.0,"v":200},{"t":21.25,"v":205},{"t":21.5,"v":195},{"t":21.75,"v":200},{"t":22.0,"v":205},{"t":22.25,"v":205},{"t":22.5,"v":205}
],
"bp":[
{"t":16.953,"v":120},{"t":16.963,"v":90},{"t":16.973,"v":79},{"t":16.984,"v":64},{"t":16.963,"v":70},{"t":16.984,"v":49},{"t":16.958,"v":100},{"t":16.968,"v":110},
{"t":17.035,"v":146},{"t":17.065,"v":135},{"t":17.106,"v":120},{"t":17.137,"v":150},{"t":17.126,"v":169},{"t":17.157,"v":131},{"t":17.045,"v":79},{"t":17.086,"v":79},{"t":17.126,"v":79},{"t":17.055,"v":41},{"t":17.106,"v":41},{"t":17.218,"v":60},{"t":17.045,"v":0},{"t":17.035,"v":-34},{"t":17.106,"v":-11},{"t":17.126,"v":-38},{"t":17.024,"v":-64},{"t":17.035,"v":-94},{"t":17.075,"v":-86},{"t":17.137,"v":-90},{"t":17.147,"v":-109},{"t":17.157,"v":-131},{"t":17.024,"v":-146},{"t":17.024,"v":-161},{"t":17.106,"v":-158},
{"t":17.279,"v":154},{"t":17.3,"v":165},{"t":17.32,"v":161},{"t":17.31,"v":124},{"t":17.361,"v":128},{"t":17.402,"v":131},{"t":17.279,"v":116},{"t":17.279,"v":83},{"t":17.381,"v":83},{"t":17.3,"v":60},{"t":17.351,"v":49},{"t":17.381,"v":41},{"t":17.29,"v":38},{"t":17.371,"v":34},{"t":17.442,"v":-15},{"t":17.391,"v":-41},{"t":17.402,"v":-34},{"t":17.29,"v":-34},{"t":17.239,"v":-38},{"t":17.3,"v":-11},{"t":17.239,"v":-60},{"t":17.279,"v":-94},{"t":17.3,"v":-116},{"t":17.351,"v":-86},{"t":17.391,"v":-83},{"t":17.402,"v":-71},{"t":17.361,"v":-101},{"t":17.371,"v":-161},{"t":17.391,"v":-135},
{"t":17.534,"v":165},{"t":17.565,"v":154},{"t":17.626,"v":146},{"t":17.524,"v":98},{"t":17.565,"v":109},{"t":17.616,"v":109},{"t":17.657,"v":109},{"t":17.524,"v":79},{"t":17.616,"v":86},{"t":17.534,"v":-41},{"t":17.575,"v":-41},{"t":17.585,"v":-56},{"t":17.626,"v":-68},{"t":17.636,"v":-83},{"t":17.534,"v":-116},{"t":17.534,"v":-131},{"t":17.555,"v":-146},{"t":17.606,"v":-165},{"t":17.616,"v":-169},
{"t":17.789,"v":101},{"t":17.789,"v":60},{"t":17.85,"v":45},{"t":17.86,"v":139},{"t":17.871,"v":116},{"t":17.891,"v":169},{"t":17.769,"v":-41},{"t":17.789,"v":-41},{"t":17.799,"v":-60},{"t":17.779,"v":-71},{"t":17.82,"v":-79},{"t":17.82,"v":-94},{"t":17.881,"v":-90},{"t":17.891,"v":-105},{"t":17.779,"v":-116},{"t":17.809,"v":-139},{"t":17.901,"v":-124},{"t":17.891,"v":-131},{"t":17.871,"v":-146},
{"t":17.952,"v":-19},{"t":17.962,"v":-11},{"t":17.983,"v":34},{"t":18.044,"v":161},{"t":18.074,"v":154},{"t":18.034,"v":135},{"t":18.136,"v":150},{"t":18.146,"v":143},{"t":18.034,"v":71},{"t":18.105,"v":86},{"t":18.156,"v":68},{"t":18.044,"v":-49},{"t":18.095,"v":-38},{"t":18.136,"v":-38},{"t":18.187,"v":-30},{"t":18.054,"v":-101},{"t":18.115,"v":-109},{"t":18.136,"v":-113},{"t":18.136,"v":-120},{"t":18.095,"v":-158},{"t":18.074,"v":-172},
{"t":18.299,"v":169},{"t":18.268,"v":128},{"t":18.289,"v":113},{"t":18.299,"v":101},{"t":18.319,"v":109},{"t":18.37,"v":83},{"t":18.279,"v":79},{"t":18.329,"v":45},{"t":18.299,"v":-19},{"t":18.289,"v":-45},{"t":18.289,"v":-64},{"t":18.299,"v":-71},{"t":18.37,"v":-124},{"t":18.38,"v":-146},{"t":18.279,"v":-158},{"t":18.309,"v":-165},{"t":18.401,"v":-165},
{"t":18.38,"v":154},{"t":18.533,"v":143},{"t":18.543,"v":124},{"t":18.594,"v":143},{"t":18.605,"v":124},{"t":18.645,"v":86},{"t":18.655,"v":75},{"t":18.533,"v":64},{"t":18.615,"v":41},{"t":18.472,"v":49},{"t":18.503,"v":41},{"t":18.574,"v":-71},{"t":18.594,"v":-64},{"t":18.645,"v":-64},{"t":18.625,"v":-86},{"t":18.574,"v":-105},{"t":18.564,"v":-143},{"t":18.635,"v":-146},{"t":18.564,"v":-169},{"t":18.645,"v":-165},{"t":18.686,"v":-19},{"t":18.696,"v":-23},
{"t":18.768,"v":161},{"t":18.84,"v":165},{"t":18.788,"v":143},{"t":18.85,"v":143},{"t":18.788,"v":113},{"t":18.809,"v":94},{"t":18.819,"v":86},{"t":18.88,"v":68},{"t":18.747,"v":56},{"t":18.778,"v":49},{"t":18.849,"v":34},{"t":18.89,"v":49},{"t":18.91,"v":26},{"t":18.971,"v":34},{"t":18.96,"v":41},{"t":18.788,"v":-64},{"t":18.829,"v":-60},{"t":18.9,"v":-41},{"t":18.89,"v":-64},{"t":18.768,"v":-124},{"t":18.819,"v":-124},{"t":18.86,"v":-128},{"t":18.89,"v":-128},{"t":18.88,"v":-169},
{"t":19.104,"v":169},{"t":19.084,"v":146},{"t":19.124,"v":143},{"t":19.165,"v":146},{"t":19.114,"v":124},{"t":19.134,"v":113},{"t":19.165,"v":105},{"t":19.155,"v":86},{"t":19.206,"v":68},{"t":19.084,"v":79},{"t":19.094,"v":41},{"t":19.114,"v":34},{"t":19.134,"v":-11},{"t":19.175,"v":-34},{"t":19.114,"v":-41},{"t":19.185,"v":-49},{"t":19.206,"v":-56},{"t":19.094,"v":-139},{"t":19.175,"v":-120},{"t":19.165,"v":-165},{"t":19.195,"v":-161},
{"t":19.277,"v":49},{"t":19.287,"v":34},{"t":19.379,"v":109},{"t":19.41,"v":105},{"t":19.451,"v":105},{"t":19.379,"v":71},{"t":19.42,"v":169},{"t":19.451,"v":41},{"t":19.481,"v":19},{"t":19.328,"v":-34},{"t":19.338,"v":-41},{"t":19.349,"v":-56},{"t":19.369,"v":-64},{"t":19.41,"v":-60},{"t":19.44,"v":-75},{"t":19.42,"v":-30},{"t":19.42,"v":-113},{"t":19.4,"v":-146},{"t":19.359,"v":-146},{"t":19.44,"v":-139},
{"t":19.569,"v":176},{"t":19.683,"v":161},{"t":19.704,"v":139},{"t":19.548,"v":109},{"t":19.623,"v":98},{"t":19.683,"v":101},{"t":19.517,"v":68},{"t":19.527,"v":56},{"t":19.61,"v":71},{"t":19.65,"v":71},{"t":19.6,"v":49},{"t":19.59,"v":-26},{"t":19.59,"v":-34},{"t":19.652,"v":-19},{"t":19.704,"v":-34},{"t":19.788,"v":-38},{"t":19.631,"v":-79},{"t":19.694,"v":-68},{"t":19.66,"v":-86},{"t":19.704,"v":-98},{"t":19.579,"v":-109},{"t":19.6,"v":-120},{"t":19.673,"v":-143},
{"t":19.829,"v":131},{"t":19.85,"v":116},{"t":19.933,"v":131},{"t":19.944,"v":169},{"t":19.819,"v":83},{"t":19.923,"v":71},{"t":19.954,"v":68},{"t":19.788,"v":60},{"t":19.85,"v":49},{"t":19.819,"v":38},{"t":19.871,"v":34},{"t":19.913,"v":-15},{"t":19.923,"v":-34},{"t":19.838,"v":-60},{"t":19.858,"v":-71},{"t":19.913,"v":-64},{"t":19.923,"v":-79},{"t":19.871,"v":-105},{"t":19.881,"v":-113},{"t":19.944,"v":-128},{"t":19.838,"v":-158},{"t":19.902,"v":-158},
{"t":20.09,"v":161},{"t":20.11,"v":150},{"t":20.11,"v":101},{"t":20.1,"v":86},{"t":20.152,"v":75},{"t":20.04,"v":64},{"t":20.09,"v":60},{"t":20.204,"v":45},{"t":20.027,"v":41},{"t":20.09,"v":-23},{"t":20.173,"v":-19},{"t":20.204,"v":-23},{"t":20.069,"v":-64},{"t":20.09,"v":-68},{"t":20.11,"v":-101},{"t":20.121,"v":-109},{"t":20.215,"v":-83},
{"t":20.277,"v":68},{"t":20.285,"v":53},{"t":20.35,"v":83},{"t":20.381,"v":79},{"t":20.36,"v":131},{"t":20.423,"v":131},{"t":20.444,"v":116},{"t":20.433,"v":109},{"t":20.402,"v":109},{"t":20.454,"v":169},{"t":20.444,"v":150},{"t":20.329,"v":-56},{"t":20.35,"v":-49},{"t":20.413,"v":-64},{"t":20.431,"v":-83},{"t":20.371,"v":-135},{"t":20.34,"v":-173},{"t":20.527,"v":-139},{"t":20.444,"v":34},{"t":20.538,"v":41},{"t":20.527,"v":30},
{"t":20.621,"v":135},{"t":20.683,"v":131},{"t":20.683,"v":116},{"t":20.683,"v":79},{"t":20.663,"v":68},{"t":20.631,"v":-75},{"t":20.642,"v":-64},{"t":20.673,"v":-56},{"t":20.631,"v":-83},{"t":20.663,"v":-128},{"t":20.683,"v":-11},{"t":20.725,"v":-23},{"t":20.756,"v":-15},{"t":20.788,"v":11},{"t":20.777,"v":19},{"t":20.819,"v":128},{"t":20.84,"v":116},{"t":20.85,"v":105},{"t":20.871,"v":98},{"t":20.923,"v":79},{"t":20.923,"v":68},{"t":20.933,"v":60},{"t":20.913,"v":49},{"t":20.85,"v":45},{"t":20.86,"v":-34},{"t":20.829,"v":-34},{"t":20.86,"v":-94},{"t":20.86,"v":-135},{"t":20.86,"v":-165},{"t":20.913,"v":-165},{"t":20.923,"v":-101},{"t":20.944,"v":-113},{"t":20.954,"v":-139},{"t":20.965,"v":165},{"t":20.923,"v":-19},{"t":20.985,"v":-11},
{"t":21.027,"v":90},{"t":21.069,"v":98},{"t":21.027,"v":83},{"t":21.121,"v":83},{"t":21.027,"v":68},{"t":21.027,"v":41},{"t":21.09,"v":154},{"t":21.079,"v":165},{"t":21.183,"v":169},{"t":21.11,"v":19},{"t":21.09,"v":-11},{"t":21.1,"v":-26},{"t":21.173,"v":-11},{"t":21.1,"v":-60},{"t":21.142,"v":-60},{"t":21.173,"v":-60},{"t":21.163,"v":-79},{"t":21.09,"v":-90},{"t":21.1,"v":-105},{"t":21.131,"v":-109},{"t":21.152,"v":-120},{"t":21.173,"v":-128},{"t":21.183,"v":-120},{"t":21.09,"v":-150},{"t":21.121,"v":-161},{"t":21.194,"v":-154},{"t":21.215,"v":-150},
{"t":21.277,"v":45},{"t":21.277,"v":19},{"t":21.329,"v":150},{"t":21.329,"v":101},{"t":21.371,"v":71},{"t":21.444,"v":116},{"t":21.444,"v":98},{"t":21.423,"v":154},{"t":21.288,"v":-41},{"t":21.319,"v":-60},{"t":21.34,"v":-49},{"t":21.34,"v":-71},{"t":21.35,"v":-86},{"t":21.371,"v":-98},{"t":21.402,"v":-109},{"t":21.433,"v":-101},{"t":21.444,"v":-109},{"t":21.454,"v":-86},{"t":21.454,"v":-19},{"t":21.423,"v":-34},{"t":21.392,"v":-19},{"t":21.413,"v":-8},{"t":21.444,"v":-4},{"t":21.465,"v":19},{"t":21.277,"v":-101},{"t":21.288,"v":-135},{"t":21.465,"v":-154},
{"t":21.579,"v":105},{"t":21.59,"v":83},{"t":21.6,"v":60},{"t":21.621,"v":169},{"t":21.6,"v":150},{"t":21.683,"v":86},{"t":21.694,"v":68},{"t":21.704,"v":60},{"t":21.663,"v":41},{"t":21.715,"v":4},{"t":21.621,"v":-41},{"t":21.652,"v":-41},{"t":21.673,"v":-34},{"t":21.694,"v":-23},{"t":21.6,"v":-56},{"t":21.621,"v":-71},{"t":21.61,"v":-64},{"t":21.735,"v":-34},{"t":21.746,"v":-38},{"t":21.683,"v":-131},{"t":21.683,"v":-143},{"t":21.663,"v":-150},{"t":21.777,"v":79},{"t":21.767,"v":64},{"t":21.788,"v":56},{"t":21.777,"v":26},{"t":21.777,"v":34},
{"t":21.84,"v":-19},{"t":21.85,"v":-56},{"t":21.86,"v":-86},{"t":21.881,"v":-94},{"t":21.913,"v":-56},{"t":21.923,"v":-98},{"t":21.944,"v":-45},{"t":21.933,"v":-56},{"t":21.871,"v":83},{"t":21.923,"v":113},{"t":21.954,"v":143},{"t":21.913,"v":-124},{"t":21.933,"v":-165},{"t":21.84,"v":-154},
{"t":22.017,"v":41},{"t":22.038,"v":34},{"t":22.048,"v":41},{"t":22.079,"v":143},{"t":22.11,"v":139},{"t":22.121,"v":124},{"t":22.079,"v":64},{"t":22.11,"v":41},{"t":22.069,"v":19},{"t":22.1,"v":41},{"t":22.142,"v":4},{"t":21.985,"v":-19},{"t":22.006,"v":-15},{"t":22.1,"v":-53},{"t":22.131,"v":-60},{"t":22.152,"v":-53},{"t":22.094,"v":-101},{"t":22.104,"v":-139},{"t":22.173,"v":-120},{"t":22.194,"v":-128},{"t":22.183,"v":75},{"t":22.194,"v":49},{"t":22.173,"v":34},{"t":22.204,"v":-41},{"t":22.194,"v":-30},{"t":22.163,"v":173},{"t":22.11,"v":-169},{"t":22.152,"v":-165},
{"t":22.329,"v":83},{"t":22.34,"v":56},{"t":22.371,"v":116},{"t":22.413,"v":109},{"t":22.444,"v":68},{"t":22.371,"v":169},{"t":22.392,"v":173},{"t":22.423,"v":169},{"t":22.277,"v":41},{"t":22.288,"v":30},{"t":22.319,"v":34},{"t":22.371,"v":19},{"t":22.413,"v":4},{"t":22.433,"v":8},{"t":22.485,"v":4},{"t":22.517,"v":-4},{"t":22.527,"v":34},{"t":22.538,"v":45},{"t":22.548,"v":-11},{"t":22.246,"v":4},{"t":22.256,"v":-11},{"t":22.329,"v":-68},{"t":22.36,"v":-53},{"t":22.413,"v":-45},{"t":22.329,"v":-79},{"t":22.36,"v":-116},{"t":22.423,"v":-116},{"t":22.371,"v":-124},{"t":22.35,"v":-165},{"t":22.381,"v":-146},{"t":22.413,"v":-150},{"t":22.444,"v":-154},{"t":22.454,"v":-173},
{"t":17.18,"v":6},{"t":17.22,"v":4},{"t":17.26,"v":8},{"t":17.3,"v":-2},{"t":17.34,"v":10},{"t":17.38,"v":4},{"t":17.42,"v":-6},{"t":17.46,"v":8},{"t":17.5,"v":2},{"t":17.54,"v":6},{"t":17.58,"v":-4},{"t":17.62,"v":10},{"t":17.66,"v":0},{"t":17.7,"v":6},{"t":17.74,"v":-8},{"t":17.78,"v":4},{"t":17.82,"v":12},{"t":17.86,"v":-2},{"t":17.9,"v":6},{"t":17.94,"v":10},{"t":17.98,"v":-4},{"t":18.02,"v":8},{"t":18.06,"v":2},{"t":18.1,"v":-6},{"t":18.14,"v":6},{"t":18.18,"v":12},{"t":18.22,"v":0},{"t":18.26,"v":8},{"t":18.3,"v":-10},{"t":18.34,"v":4},{"t":18.38,"v":10},{"t":18.42,"v":-2},{"t":18.46,"v":14},{"t":18.5,"v":6},{"t":18.54,"v":-4},{"t":18.58,"v":8},{"t":18.62,"v":2},{"t":18.66,"v":-8},{"t":18.7,"v":6},{"t":18.74,"v":-6},{"t":18.78,"v":10},{"t":18.82,"v":4},{"t":18.86,"v":-4},{"t":18.9,"v":8},{"t":18.94,"v":-12},{"t":18.98,"v":6},{"t":19.0,"v":8},{"t":19.015,"v":9},{"t":19.03,"v":7},{"t":19.045,"v":8},{"t":19.06,"v":9},{"t":19.08,"v":6},{"t":19.12,"v":4},{"t":19.16,"v":-2},{"t":19.2,"v":8},{"t":19.24,"v":2},{"t":19.28,"v":-6},{"t":19.32,"v":10},{"t":19.36,"v":4},{"t":19.4,"v":-2},{"t":19.44,"v":8},{"t":19.48,"v":6},{"t":19.52,"v":-4},{"t":19.56,"v":12},{"t":19.6,"v":4},{"t":19.64,"v":-8},{"t":19.68,"v":6},{"t":19.72,"v":10},{"t":19.76,"v":-2},{"t":19.8,"v":6},{"t":19.84,"v":-10},{"t":19.88,"v":4},{"t":19.92,"v":8},{"t":19.96,"v":-4},{"t":20.0,"v":10},{"t":20.04,"v":2},{"t":20.08,"v":-6},{"t":20.12,"v":8},{"t":20.16,"v":4},{"t":20.2,"v":12},{"t":20.24,"v":-2},{"t":20.28,"v":6},{"t":20.32,"v":10},{"t":20.36,"v":-4},{"t":20.4,"v":8},{"t":20.44,"v":2},{"t":20.48,"v":-8},{"t":20.52,"v":6},{"t":20.56,"v":10},{"t":20.6,"v":-2},{"t":20.64,"v":4},{"t":20.68,"v":-10},{"t":20.72,"v":8},{"t":20.76,"v":2},{"t":20.8,"v":-6},{"t":20.84,"v":10},{"t":20.88,"v":4},{"t":20.92,"v":-4},{"t":20.96,"v":8},{"t":21.0,"v":2},{"t":21.04,"v":-6},{"t":21.08,"v":6},{"t":21.12,"v":10},{"t":21.16,"v":-2},{"t":21.2,"v":4},{"t":21.24,"v":8},{"t":21.28,"v":-8},{"t":21.32,"v":6},{"t":21.36,"v":2},{"t":21.4,"v":-4},{"t":21.44,"v":10},{"t":21.48,"v":4},{"t":21.52,"v":-2},{"t":21.56,"v":8},{"t":21.6,"v":-6},{"t":21.64,"v":6},{"t":21.68,"v":2},{"t":21.72,"v":-8},{"t":21.76,"v":4},{"t":21.8,"v":10},{"t":21.84,"v":6},{"t":21.88,"v":-4},{"t":21.92,"v":2},{"t":21.96,"v":8},{"t":22.0,"v":-2},{"t":22.04,"v":-20},{"t":22.08,"v":6},{"t":22.12,"v":10},{"t":22.16,"v":-4},{"t":22.2,"v":4},{"t":22.24,"v":8},{"t":22.28,"v":-2},{"t":22.32,"v":6},{"t":22.36,"v":-10},{"t":22.4,"v":2},{"t":22.44,"v":8},{"t":22.48,"v":-6},{"t":22.52,"v":4},{"t":22.56,"v":-8}
],
"ja":[
{"t":16.965,"v":70},{"t":16.975,"v":58},{"t":16.97,"v":50},{"t":17.22,"v":62},{"t":17.226,"v":50},{"t":17.47,"v":70},{"t":17.476,"v":55},{"t":17.72,"v":66},{"t":17.726,"v":55},{"t":17.968,"v":72},{"t":17.975,"v":60},{"t":18.22,"v":65},{"t":18.226,"v":55},{"t":18.468,"v":70},{"t":18.476,"v":58},{"t":18.72,"v":66},{"t":18.726,"v":54},{"t":18.972,"v":68},{"t":18.978,"v":55},{"t":19.276,"v":60},{"t":19.282,"v":50},{"t":19.524,"v":62},{"t":19.53,"v":72},{"t":19.776,"v":66},{"t":19.782,"v":55},{"t":20.026,"v":66},{"t":20.032,"v":55},{"t":20.276,"v":58},{"t":20.282,"v":48},{"t":20.526,"v":58},{"t":20.532,"v":48},{"t":20.776,"v":58},{"t":20.782,"v":48},{"t":21.026,"v":58},{"t":21.032,"v":48},{"t":21.276,"v":56},{"t":21.282,"v":46},{"t":21.53,"v":72},{"t":21.536,"v":60},{"t":21.776,"v":90},{"t":21.782,"v":75},{"t":22.016,"v":92},{"t":22.022,"v":80},{"t":22.266,"v":108},{"t":22.272,"v":95},{"t":22.526,"v":120},{"t":22.532,"v":105},
{"t":17.0,"v":14},{"t":17.025,"v":24},{"t":17.05,"v":10},{"t":17.075,"v":28},{"t":17.1,"v":18},{"t":17.125,"v":12},{"t":17.15,"v":30},{"t":17.175,"v":20},
{"t":17.25,"v":24},{"t":17.275,"v":10},{"t":17.3,"v":28},{"t":17.325,"v":18},{"t":17.35,"v":12},{"t":17.375,"v":30},{"t":17.4,"v":20},{"t":17.425,"v":14},
{"t":17.5,"v":10},{"t":17.525,"v":28},{"t":17.55,"v":18},{"t":17.575,"v":12},{"t":17.6,"v":30},{"t":17.625,"v":20},{"t":17.65,"v":14},{"t":17.675,"v":24},
{"t":17.75,"v":28},{"t":17.775,"v":18},{"t":17.8,"v":12},{"t":17.825,"v":30},{"t":17.85,"v":20},{"t":17.875,"v":14},{"t":17.9,"v":24},{"t":17.925,"v":10},
{"t":18.0,"v":18},{"t":18.025,"v":12},{"t":18.05,"v":30},{"t":18.075,"v":20},{"t":18.1,"v":14},{"t":18.125,"v":24},{"t":18.15,"v":10},{"t":18.175,"v":28},
{"t":18.25,"v":12},{"t":18.275,"v":30},{"t":18.3,"v":20},{"t":18.325,"v":14},{"t":18.35,"v":24},{"t":18.375,"v":10},{"t":18.4,"v":28},{"t":18.425,"v":18},
{"t":18.5,"v":30},{"t":18.525,"v":20},{"t":18.55,"v":14},{"t":18.575,"v":24},{"t":18.6,"v":10},{"t":18.625,"v":28},{"t":18.65,"v":18},{"t":18.675,"v":12},
{"t":18.75,"v":20},{"t":18.775,"v":14},{"t":18.8,"v":24},{"t":18.825,"v":10},{"t":18.85,"v":28},{"t":18.875,"v":18},{"t":18.9,"v":12},{"t":18.925,"v":30},
{"t":19.05,"v":14},{"t":19.075,"v":24},{"t":19.1,"v":10},{"t":19.125,"v":28},{"t":19.15,"v":18},{"t":19.175,"v":12},{"t":19.2,"v":30},{"t":19.225,"v":20},
{"t":19.3,"v":24},{"t":19.325,"v":10},{"t":19.35,"v":28},{"t":19.375,"v":18},{"t":19.4,"v":12},{"t":19.425,"v":30},{"t":19.45,"v":20},{"t":19.475,"v":14},
{"t":19.55,"v":10},{"t":19.575,"v":28},{"t":19.6,"v":18},{"t":19.625,"v":12},{"t":19.65,"v":30},{"t":19.675,"v":20},{"t":19.7,"v":14},{"t":19.725,"v":24},
{"t":19.8,"v":28},{"t":19.825,"v":18},{"t":19.85,"v":12},{"t":19.875,"v":30},{"t":19.9,"v":20},{"t":19.925,"v":14},{"t":19.95,"v":24},{"t":19.975,"v":10},
{"t":20.05,"v":18},{"t":20.075,"v":12},{"t":20.1,"v":30},{"t":20.125,"v":20},{"t":20.15,"v":14},{"t":20.175,"v":24},{"t":20.2,"v":10},{"t":20.225,"v":28},
{"t":20.3,"v":12},{"t":20.325,"v":30},{"t":20.35,"v":20},{"t":20.375,"v":14},{"t":20.4,"v":24},{"t":20.425,"v":10},{"t":20.45,"v":28},{"t":20.475,"v":18},
{"t":20.55,"v":30},{"t":20.575,"v":20},{"t":20.6,"v":14},{"t":20.625,"v":24},{"t":20.65,"v":10},{"t":20.675,"v":28},{"t":20.7,"v":18},{"t":20.725,"v":12},
{"t":20.8,"v":20},{"t":20.825,"v":14},{"t":20.85,"v":24},{"t":20.875,"v":10},{"t":20.9,"v":28},{"t":20.925,"v":18},{"t":20.95,"v":12},{"t":20.975,"v":30},
{"t":21.05,"v":14},{"t":21.075,"v":24},{"t":21.1,"v":10},{"t":21.125,"v":28},{"t":21.15,"v":18},{"t":21.175,"v":12},{"t":21.2,"v":30},{"t":21.225,"v":20},
{"t":21.3,"v":24},{"t":21.325,"v":10},{"t":21.35,"v":28},{"t":21.375,"v":18},{"t":21.4,"v":12},{"t":21.425,"v":30},{"t":21.45,"v":20},{"t":21.475,"v":14},
{"t":21.55,"v":10},{"t":21.575,"v":28},{"t":21.6,"v":18},{"t":21.625,"v":12},{"t":21.65,"v":30},{"t":21.675,"v":20},{"t":21.7,"v":14},{"t":21.725,"v":24},
{"t":21.8,"v":28},{"t":21.825,"v":18},{"t":21.85,"v":12},{"t":21.875,"v":30},{"t":21.9,"v":20},{"t":21.925,"v":14},{"t":21.95,"v":24},{"t":21.975,"v":10},
{"t":22.05,"v":18},{"t":22.075,"v":12},{"t":22.1,"v":30},{"t":22.125,"v":20},{"t":22.15,"v":14},{"t":22.175,"v":24},{"t":22.2,"v":10},{"t":22.225,"v":28},
{"t":22.3,"v":30},{"t":22.325,"v":45},{"t":22.35,"v":25},{"t":22.375,"v":50},{"t":22.4,"v":35},{"t":22.425,"v":28},{"t":22.45,"v":40},{"t":22.475,"v":32},
{"t":22.55,"v":110},{"t":22.575,"v":118},
{"t":17.0125,"v":20},{"t":17.0625,"v":16},{"t":17.1125,"v":22},{"t":17.1625,"v":18},{"t":17.2625,"v":16},{"t":17.3125,"v":22},{"t":17.3625,"v":18},{"t":17.4125,"v":20},{"t":17.5125,"v":22},{"t":17.5625,"v":18},{"t":17.6125,"v":20},{"t":17.6625,"v":16},{"t":17.7625,"v":18},{"t":17.8125,"v":20},{"t":17.8625,"v":16},{"t":17.9125,"v":22},{"t":18.0125,"v":20},{"t":18.0625,"v":16},{"t":18.1125,"v":22},{"t":18.1625,"v":18},{"t":18.2625,"v":16},{"t":18.3125,"v":22},{"t":18.3625,"v":18},{"t":18.4125,"v":20},{"t":18.5125,"v":22},{"t":18.5625,"v":18},{"t":18.6125,"v":20},{"t":18.6625,"v":16},{"t":18.7625,"v":18},{"t":18.8125,"v":20},{"t":18.8625,"v":16},{"t":18.9125,"v":22},{"t":19.0625,"v":20},{"t":19.1125,"v":16},{"t":19.1625,"v":22},{"t":19.2125,"v":18},{"t":19.3125,"v":16},{"t":19.3625,"v":22},{"t":19.4125,"v":18},{"t":19.4625,"v":20},{"t":19.5625,"v":22},{"t":19.6125,"v":18},{"t":19.6625,"v":20},{"t":19.7125,"v":16},{"t":19.8125,"v":18},{"t":19.8625,"v":20},{"t":19.9125,"v":16},{"t":19.9625,"v":22},{"t":20.0625,"v":20},{"t":20.1125,"v":16},{"t":20.1625,"v":22},{"t":20.2125,"v":18},{"t":20.3125,"v":16},{"t":20.3625,"v":22},{"t":20.4125,"v":18},{"t":20.4625,"v":20},{"t":20.5625,"v":22},{"t":20.6125,"v":18},{"t":20.6625,"v":20},{"t":20.7125,"v":16},{"t":20.8125,"v":18},{"t":20.8625,"v":20},{"t":20.9125,"v":16},{"t":20.9625,"v":22},{"t":21.0625,"v":20},{"t":21.1125,"v":16},{"t":21.1625,"v":22},{"t":21.2125,"v":18},{"t":21.3125,"v":16},{"t":21.3625,"v":22},{"t":21.4125,"v":18},{"t":21.4625,"v":20},{"t":21.5625,"v":22},{"t":21.6125,"v":18},{"t":21.6625,"v":20},{"t":21.7125,"v":16},{"t":21.8125,"v":18},{"t":21.8625,"v":20},{"t":21.9125,"v":16},{"t":21.9625,"v":22},{"t":22.0625,"v":20},{"t":22.1125,"v":16},{"t":22.1625,"v":22},{"t":22.2125,"v":18},{"t":22.3125,"v":36},{"t":22.3625,"v":42},{"t":22.4125,"v":30},{"t":22.4625,"v":38},
{"t":17.0375,"v":32},{"t":17.0875,"v":38},{"t":17.1375,"v":28},{"t":17.1875,"v":36},{"t":17.2875,"v":38},{"t":17.3375,"v":28},{"t":17.3875,"v":36},{"t":17.4375,"v":32},{"t":17.5375,"v":28},{"t":17.5875,"v":36},{"t":17.6375,"v":32},{"t":17.6875,"v":38},{"t":17.7875,"v":36},{"t":17.8375,"v":32},{"t":17.8875,"v":38},{"t":17.9375,"v":28},{"t":18.0375,"v":32},{"t":18.0875,"v":38},{"t":18.1375,"v":28},{"t":18.1875,"v":36},{"t":18.2875,"v":38},{"t":18.3375,"v":28},{"t":18.3875,"v":36},{"t":18.4375,"v":32},{"t":18.5375,"v":28},{"t":18.5875,"v":36},{"t":18.6375,"v":32},{"t":18.6875,"v":38},{"t":18.7875,"v":36},{"t":18.8375,"v":32},{"t":18.8875,"v":38},{"t":18.9375,"v":28},{"t":19.0875,"v":32},{"t":19.1375,"v":38},{"t":19.1875,"v":28},{"t":19.2375,"v":36},{"t":19.3375,"v":38},{"t":19.3875,"v":28},{"t":19.4375,"v":36},{"t":19.4875,"v":32},{"t":19.5875,"v":28},{"t":19.6375,"v":36},{"t":19.6875,"v":32},{"t":19.7375,"v":38},{"t":19.8375,"v":36},{"t":19.8875,"v":32},{"t":19.9375,"v":38},{"t":19.9875,"v":28},{"t":20.0875,"v":32},{"t":20.1375,"v":38},{"t":20.1875,"v":28},{"t":20.2375,"v":36},{"t":20.3375,"v":38},{"t":20.3875,"v":28},{"t":20.4375,"v":36},{"t":20.4875,"v":32},{"t":20.5875,"v":28},{"t":20.6375,"v":36},{"t":20.6875,"v":32},{"t":20.7375,"v":38},{"t":20.8375,"v":36},{"t":20.8875,"v":32},{"t":20.9375,"v":38},{"t":20.9875,"v":28},{"t":21.0875,"v":32},{"t":21.1375,"v":38},{"t":21.1875,"v":28},{"t":21.2375,"v":36},{"t":21.3375,"v":38},{"t":21.3875,"v":28},{"t":21.4375,"v":36},{"t":21.4875,"v":32},{"t":21.5875,"v":28},{"t":21.6375,"v":36},{"t":21.6875,"v":32},{"t":21.7375,"v":38},{"t":21.8375,"v":36},{"t":21.8875,"v":32},{"t":21.9375,"v":38},{"t":21.9875,"v":28},{"t":22.0875,"v":32},{"t":22.1375,"v":38},{"t":22.1875,"v":28},{"t":22.2375,"v":36},{"t":22.3375,"v":48},{"t":22.3875,"v":40},{"t":22.4375,"v":52},{"t":22.4875,"v":44},
{"t":17.092,"v":649},{"t":17.177,"v":633},{"t":17.259,"v":629},{"t":17.261,"v":640},{"t":17.341,"v":629},{"t":17.422,"v":639},{"t":17.508,"v":633},{"t":17.51,"v":645},{"t":17.59,"v":629},{"t":17.677,"v":625},{"t":17.759,"v":609},{"t":17.761,"v":620},{"t":17.84,"v":625},{"t":17.922,"v":609},{"t":18.003,"v":625},{"t":18.089,"v":619},{"t":18.171,"v":619},{"t":18.173,"v":608},{"t":18.254,"v":609},{"t":18.339,"v":599},{"t":18.421,"v":613},{"t":18.423,"v":625},{"t":18.503,"v":625},{"t":18.584,"v":625},{"t":18.67,"v":613},{"t":18.752,"v":613},{"t":18.833,"v":619},{"t":18.835,"v":630},{"t":18.921,"v":619},{"t":18.99,"v":613},{"t":19.005,"v":620},{"t":19.02,"v":608},{"t":19.035,"v":616},{"t":19.05,"v":610},{"t":19.065,"v":614},{"t":19.139,"v":619},{"t":19.222,"v":629},{"t":19.304,"v":599},{"t":19.306,"v":612},{"t":19.39,"v":619},{"t":19.471,"v":619},
{"t":19.558,"v":625},{"t":19.642,"v":619},{"t":19.644,"v":630},{"t":19.725,"v":613},{"t":19.808,"v":629},{"t":19.892,"v":625},{"t":19.975,"v":619},{"t":20.058,"v":609},{"t":20.06,"v":620},{"t":20.142,"v":609},{"t":20.225,"v":613},{"t":20.308,"v":619},{"t":20.392,"v":619},{"t":20.475,"v":625},{"t":20.558,"v":599},{"t":20.642,"v":639},{"t":20.644,"v":628},{"t":20.725,"v":619},{"t":20.808,"v":619},{"t":20.892,"v":625},{"t":20.975,"v":625},{"t":21.058,"v":629},{"t":21.142,"v":625},{"t":21.144,"v":635},{"t":21.225,"v":625},{"t":21.308,"v":649},{"t":21.392,"v":645},{"t":21.475,"v":639},{"t":21.558,"v":639},{"t":21.642,"v":645},{"t":21.644,"v":655},{"t":21.725,"v":645},{"t":21.808,"v":649},{"t":21.892,"v":645},{"t":21.975,"v":649},{"t":22.058,"v":665},{"t":22.06,"v":675},{"t":22.142,"v":665},{"t":22.225,"v":665},{"t":22.308,"v":659},{"t":22.31,"v":648},{"t":22.392,"v":669},{"t":22.475,"v":669},{"t":22.477,"v":680},
{"t":17.198,"v":300},{"t":17.2,"v":290},{"t":17.442,"v":305},{"t":17.691,"v":300},{"t":17.946,"v":300},{"t":17.948,"v":290},{"t":18.193,"v":300},{"t":18.441,"v":315},{"t":18.696,"v":300},{"t":18.698,"v":312},{"t":18.941,"v":300},{"t":19.253,"v":310},{"t":19.255,"v":300},{"t":19.497,"v":320},{"t":19.499,"v":330},{"t":19.746,"v":328},{"t":19.996,"v":302},{"t":20.246,"v":308},{"t":20.248,"v":296},{"t":20.496,"v":291},{"t":20.746,"v":302},{"t":21.0,"v":318},{"t":21.002,"v":306},{"t":21.25,"v":308},{"t":21.5,"v":318},{"t":21.75,"v":308},{"t":21.752,"v":298},{"t":22.0,"v":302},{"t":22.002,"v":312},{"t":22.25,"v":291},{"t":22.252,"v":300},{"t":22.5,"v":302}
],
"jp":[
{"t":16.963,"v":-43},{"t":16.973,"v":-32},{"t":16.984,"v":-54},{"t":16.953,"v":-47},{"t":16.968,"v":-50},{"t":16.978,"v":-38},
{"t":17.024,"v":104},{"t":17.045,"v":74},{"t":17.024,"v":59},{"t":17.055,"v":36},{"t":17.045,"v":25},{"t":17.024,"v":-24},{"t":17.035,"v":-47},{"t":17.045,"v":-84},{"t":17.055,"v":-88},{"t":17.065,"v":-24},{"t":17.096,"v":-39},{"t":17.116,"v":-69},{"t":17.106,"v":-96},{"t":17.045,"v":-122},{"t":17.035,"v":-152},{"t":17.075,"v":-156},{"t":17.116,"v":-129},{"t":17.126,"v":-148},{"t":17.137,"v":-114},{"t":17.126,"v":81},{"t":17.137,"v":96},{"t":17.126,"v":62},{"t":17.157,"v":141},{"t":17.157,"v":59},{"t":17.147,"v":6},
{"t":17.279,"v":168},{"t":17.3,"v":156},{"t":17.351,"v":160},{"t":17.371,"v":119},{"t":17.269,"v":145},{"t":17.31,"v":81},{"t":17.34,"v":74},{"t":17.3,"v":59},{"t":17.33,"v":55},{"t":17.361,"v":55},{"t":17.402,"v":44},{"t":17.279,"v":-24},{"t":17.29,"v":-58},{"t":17.391,"v":-24},{"t":17.371,"v":-47},{"t":17.29,"v":-126},{"t":17.31,"v":-148},{"t":17.269,"v":-152},{"t":17.402,"v":-107},{"t":17.391,"v":-122},{"t":17.361,"v":-141},{"t":17.412,"v":-174},
{"t":17.555,"v":160},{"t":17.575,"v":108},{"t":17.626,"v":115},{"t":17.657,"v":115},{"t":17.555,"v":55},{"t":17.565,"v":44},{"t":17.606,"v":55},{"t":17.565,"v":-47},{"t":17.575,"v":-62},{"t":17.626,"v":-47},{"t":17.636,"v":-88},{"t":17.534,"v":-92},{"t":17.545,"v":-73},{"t":17.534,"v":-114},{"t":17.514,"v":-167},{"t":17.606,"v":-171},{"t":17.647,"v":-137},{"t":17.657,"v":156},
{"t":17.769,"v":160},{"t":17.881,"v":168},{"t":17.799,"v":119},{"t":17.82,"v":119},{"t":17.85,"v":77},{"t":17.901,"v":74},{"t":17.809,"v":55},{"t":17.799,"v":44},{"t":17.85,"v":-17},{"t":17.891,"v":-32},{"t":17.871,"v":-47},{"t":17.809,"v":-111},{"t":17.799,"v":-114},{"t":17.86,"v":-92},{"t":17.901,"v":-92},{"t":17.881,"v":-144},{"t":17.769,"v":-167},{"t":17.881,"v":-171},
{"t":18.023,"v":126},{"t":18.044,"v":123},{"t":18.013,"v":104},{"t":18.115,"v":130},{"t":18.136,"v":104},{"t":18.146,"v":77},{"t":18.136,"v":36},{"t":18.115,"v":25},{"t":18.044,"v":62},{"t":18.044,"v":44},{"t":18.013,"v":-24},{"t":18.054,"v":-20},{"t":18.074,"v":-80},{"t":18.136,"v":-118},{"t":18.156,"v":-126},{"t":18.176,"v":-129},{"t":18.187,"v":-17},{"t":18.207,"v":-24},
{"t":18.268,"v":145},{"t":18.289,"v":160},{"t":18.329,"v":156},{"t":18.38,"v":168},{"t":18.401,"v":164},{"t":18.299,"v":123},{"t":18.319,"v":111},{"t":18.38,"v":104},{"t":18.319,"v":55},{"t":18.39,"v":36},{"t":18.309,"v":-39},{"t":18.38,"v":-84},{"t":18.39,"v":-69},{"t":18.289,"v":-114},{"t":18.279,"v":-133},{"t":18.319,"v":-111},{"t":18.38,"v":-141},{"t":18.533,"v":-96},{"t":18.523,"v":-107},{"t":18.533,"v":138},{"t":18.645,"v":145},{"t":18.655,"v":156},{"t":18.533,"v":160},{"t":18.605,"v":96},{"t":18.635,"v":89},{"t":18.553,"v":62},{"t":18.574,"v":66},{"t":18.605,"v":66},{"t":18.564,"v":36},{"t":18.625,"v":100},{"t":18.564,"v":-17},{"t":18.574,"v":-47},{"t":18.584,"v":-73},{"t":18.635,"v":-114},{"t":18.635,"v":-126},{"t":18.543,"v":-152},{"t":18.543,"v":-167},{"t":18.655,"v":-137},
{"t":18.809,"v":171},{"t":18.89,"v":149},{"t":18.788,"v":36},{"t":18.829,"v":40},{"t":18.87,"v":55},{"t":18.819,"v":89},{"t":18.86,"v":81},{"t":18.788,"v":-32},{"t":18.829,"v":-39},{"t":18.86,"v":-24},{"t":18.809,"v":-58},{"t":18.87,"v":-65},{"t":18.84,"v":-69},{"t":18.89,"v":-92},{"t":18.809,"v":-92},{"t":18.778,"v":-111},{"t":18.798,"v":-159},{"t":18.84,"v":-159},{"t":18.951,"v":-17},{"t":18.971,"v":-32},
{"t":19.104,"v":138},{"t":19.155,"v":149},{"t":19.195,"v":153},{"t":19.155,"v":119},{"t":19.175,"v":104},{"t":19.165,"v":85},{"t":19.084,"v":36},{"t":19.114,"v":29},{"t":19.175,"v":29},{"t":19.206,"v":21},{"t":19.084,"v":-62},{"t":19.104,"v":-65},{"t":19.155,"v":-84},{"t":19.206,"v":-99},{"t":19.063,"v":-144},{"t":19.073,"v":-163},{"t":19.175,"v":-148},{"t":19.185,"v":-167},
{"t":19.338,"v":164},{"t":19.359,"v":168},{"t":19.41,"v":156},{"t":19.328,"v":100},{"t":19.359,"v":104},{"t":19.359,"v":59},{"t":19.441,"v":44},{"t":19.318,"v":-17},{"t":19.277,"v":-17},{"t":19.287,"v":-9},{"t":19.379,"v":-32},{"t":19.44,"v":-32},{"t":19.43,"v":-54},{"t":19.359,"v":-69},{"t":19.349,"v":-99},{"t":19.44,"v":-92},{"t":19.451,"v":-114},{"t":19.44,"v":-129},{"t":19.338,"v":-156},{"t":19.4,"v":-163},{"t":19.491,"v":29},{"t":19.502,"v":-17},{"t":19.522,"v":-32},
{"t":19.569,"v":168},{"t":19.642,"v":160},{"t":19.579,"v":145},{"t":19.6,"v":134},{"t":19.621,"v":134},{"t":19.694,"v":119},{"t":19.579,"v":100},{"t":19.6,"v":62},{"t":19.683,"v":36},{"t":19.517,"v":25},{"t":19.558,"v":6},{"t":19.621,"v":14},{"t":19.523,"v":-32},{"t":19.533,"v":-39},{"t":19.579,"v":-28},{"t":19.662,"v":-28},{"t":19.683,"v":-39},{"t":19.694,"v":-47},{"t":19.631,"v":-69},{"t":19.694,"v":-92},{"t":19.704,"v":-107},{"t":19.631,"v":-148},
{"t":19.84,"v":164},{"t":19.829,"v":145},{"t":19.85,"v":168},{"t":19.923,"v":171},{"t":19.933,"v":123},{"t":19.944,"v":104},{"t":19.923,"v":92},{"t":19.954,"v":85},{"t":19.84,"v":74},{"t":19.85,"v":62},{"t":19.933,"v":55},{"t":19.892,"v":14},{"t":19.871,"v":-24},{"t":19.902,"v":-32},{"t":19.933,"v":-24},{"t":19.85,"v":-24},{"t":19.777,"v":-32},{"t":19.829,"v":-129},{"t":19.881,"v":-107},{"t":19.912,"v":-99},{"t":19.871,"v":-152},{"t":19.871,"v":-163},{"t":19.829,"v":-167},
{"t":20.069,"v":168},{"t":20.204,"v":164},{"t":20.09,"v":119},{"t":20.121,"v":123},{"t":20.173,"v":77},{"t":20.215,"v":77},{"t":20.11,"v":66},{"t":20.11,"v":55},{"t":20.1,"v":44},{"t":20.038,"v":-17},{"t":20.027,"v":-24},{"t":20.079,"v":-32},{"t":20.11,"v":-69},{"t":20.11,"v":-84},{"t":20.173,"v":-65},{"t":20.163,"v":-84},{"t":20.09,"v":-99},{"t":20.09,"v":-107},{"t":20.121,"v":-122},{"t":20.09,"v":-167},
{"t":20.34,"v":123},{"t":20.34,"v":104},{"t":20.444,"v":164},{"t":20.433,"v":156},{"t":20.444,"v":119},{"t":20.413,"v":77},{"t":20.423,"v":44},{"t":20.34,"v":36},{"t":20.402,"v":25},{"t":20.329,"v":-62},{"t":20.371,"v":-58},{"t":20.402,"v":-77},{"t":20.454,"v":-69},{"t":20.329,"v":-107},{"t":20.36,"v":-114},{"t":20.402,"v":-107},{"t":20.433,"v":-92},{"t":20.454,"v":-122},{"t":20.34,"v":-152},{"t":20.319,"v":-171},{"t":20.423,"v":-144},{"t":20.496,"v":-47},
{"t":20.631,"v":130},{"t":20.652,"v":126},{"t":20.683,"v":81},{"t":20.704,"v":74},{"t":20.663,"v":32},{"t":20.683,"v":36},{"t":20.621,"v":-24},{"t":20.621,"v":-50},{"t":20.694,"v":-84},{"t":20.683,"v":-111},{"t":20.694,"v":-122},{"t":20.683,"v":-137},{"t":20.621,"v":-171},{"t":20.673,"v":-171},
{"t":20.84,"v":145},{"t":20.954,"v":149},{"t":20.954,"v":134},{"t":20.85,"v":81},{"t":20.86,"v":74},{"t":20.923,"v":55},{"t":20.913,"v":36},{"t":20.944,"v":-32},{"t":20.944,"v":-39},{"t":20.85,"v":-58},{"t":20.85,"v":-77},{"t":20.923,"v":-92},{"t":20.944,"v":-88},{"t":20.933,"v":-111},{"t":20.84,"v":-126},{"t":20.829,"v":-148},{"t":20.871,"v":-111},{"t":20.902,"v":-137},{"t":20.954,"v":-122},
{"t":21.09,"v":145},{"t":21.163,"v":141},{"t":21.204,"v":134},{"t":21.09,"v":70},{"t":21.09,"v":-24},{"t":21.11,"v":-39},{"t":21.152,"v":-28},{"t":21.194,"v":-39},{"t":21.1,"v":-50},{"t":21.152,"v":-54},{"t":21.09,"v":-92},{"t":21.131,"v":-99},{"t":21.194,"v":-103},{"t":21.11,"v":-111},{"t":21.069,"v":-114},{"t":21.142,"v":-126},{"t":21.11,"v":-141},{"t":21.204,"v":-152},{"t":21.183,"v":-171},
{"t":21.34,"v":164},{"t":21.35,"v":171},{"t":21.371,"v":156},{"t":21.329,"v":130},{"t":21.35,"v":100},{"t":21.392,"v":96},{"t":21.423,"v":123},{"t":21.454,"v":119},{"t":21.433,"v":74},{"t":21.433,"v":55},{"t":21.454,"v":44},{"t":21.402,"v":-24},{"t":21.444,"v":-43},{"t":21.433,"v":-58},{"t":21.444,"v":-69},{"t":21.35,"v":-77},{"t":21.371,"v":-84},{"t":21.413,"v":-88},{"t":21.433,"v":-107},{"t":21.319,"v":-171},{"t":21.433,"v":-171},
{"t":21.6,"v":160},{"t":21.663,"v":171},{"t":21.694,"v":156},{"t":21.694,"v":119},{"t":21.621,"v":66},{"t":21.663,"v":62},{"t":21.683,"v":74},{"t":21.694,"v":36},{"t":21.777,"v":51},{"t":21.788,"v":44},{"t":21.6,"v":-24},{"t":21.621,"v":-32},{"t":21.683,"v":-28},{"t":21.6,"v":-80},{"t":21.59,"v":-103},{"t":21.683,"v":-69},{"t":21.663,"v":-133},{"t":21.673,"v":-152},{"t":21.61,"v":-159},{"t":21.694,"v":-167},
{"t":21.84,"v":81},{"t":21.871,"v":126},{"t":21.913,"v":111},{"t":21.923,"v":104},{"t":21.944,"v":164},{"t":21.902,"v":119},{"t":21.84,"v":36},{"t":21.86,"v":-17},{"t":21.902,"v":-24},{"t":21.923,"v":-47},{"t":21.933,"v":-54},{"t":21.86,"v":-84},{"t":21.84,"v":-107},{"t":21.85,"v":-118},{"t":21.86,"v":-148},{"t":21.933,"v":-148},{"t":21.954,"v":-58},
{"t":22.1,"v":168},{"t":22.121,"v":141},{"t":22.163,"v":141},{"t":22.079,"v":96},{"t":22.163,"v":108},{"t":22.173,"v":92},{"t":22.163,"v":70},{"t":22.173,"v":59},{"t":22.017,"v":36},{"t":22.027,"v":44},{"t":22.085,"v":36},{"t":22.194,"v":44},{"t":22.079,"v":-17},{"t":22.079,"v":-24},{"t":22.183,"v":-17},{"t":22.204,"v":-62},{"t":22.246,"v":-20},{"t":22.256,"v":-28},{"t":22.121,"v":-107},{"t":22.11,"v":-148},{"t":22.194,"v":-129},{"t":22.163,"v":-144},{"t":22.104,"v":-171},
{"t":22.35,"v":156},{"t":22.413,"v":145},{"t":22.433,"v":74},{"t":22.444,"v":44},{"t":22.402,"v":36},{"t":22.413,"v":29},{"t":22.288,"v":36},{"t":22.267,"v":44},{"t":22.329,"v":36},{"t":22.35,"v":29},{"t":22.298,"v":-17},{"t":22.423,"v":-32},{"t":22.433,"v":-47},{"t":22.402,"v":-62},{"t":22.381,"v":-84},{"t":22.35,"v":-88},{"t":22.371,"v":-99},{"t":22.392,"v":-114},{"t":22.413,"v":-122},{"t":22.371,"v":-129},{"t":22.34,"v":-148},{"t":22.392,"v":-152},{"t":22.433,"v":-167},{"t":22.527,"v":66},{"t":22.538,"v":55},{"t":22.548,"v":74},{"t":22.517,"v":36},{"t":22.496,"v":-20},{"t":22.485,"v":-2},
{"t":17.18,"v":6},{"t":17.22,"v":-4},{"t":17.26,"v":10},{"t":17.3,"v":-20},{"t":17.34,"v":2},{"t":17.38,"v":8},{"t":17.42,"v":-12},{"t":17.46,"v":4},{"t":17.5,"v":-25},{"t":17.54,"v":12},{"t":17.58,"v":6},{"t":17.62,"v":-4},{"t":17.66,"v":10},{"t":17.7,"v":-20},{"t":17.74,"v":2},{"t":17.78,"v":8},{"t":17.82,"v":-12},{"t":17.86,"v":4},{"t":17.9,"v":-25},{"t":17.94,"v":12},{"t":17.98,"v":6},{"t":18.02,"v":-4},{"t":18.06,"v":10},{"t":18.1,"v":-20},{"t":18.14,"v":2},{"t":18.18,"v":8},{"t":18.22,"v":-28},{"t":18.26,"v":4},{"t":18.3,"v":-22},{"t":18.34,"v":12},{"t":18.38,"v":6},{"t":18.42,"v":-4},{"t":18.46,"v":10},{"t":18.5,"v":-20},{"t":18.54,"v":2},{"t":18.58,"v":8},{"t":18.62,"v":-12},{"t":18.66,"v":4},{"t":18.7,"v":-25},{"t":18.74,"v":12},{"t":18.78,"v":6},{"t":18.82,"v":-4},{"t":18.86,"v":10},{"t":18.9,"v":-20},{"t":18.94,"v":2},{"t":18.98,"v":8},{"t":19.0,"v":6},{"t":19.015,"v":7},{"t":19.03,"v":6},{"t":19.045,"v":8},{"t":19.06,"v":5},{"t":19.1,"v":-12},{"t":19.14,"v":4},{"t":19.18,"v":-25},{"t":19.22,"v":12},{"t":19.26,"v":6},{"t":19.3,"v":-4},{"t":19.34,"v":10},{"t":19.38,"v":-20},{"t":19.42,"v":2},{"t":19.46,"v":8},{"t":19.5,"v":-12},{"t":19.54,"v":4},{"t":19.58,"v":-25},{"t":19.62,"v":12},{"t":19.66,"v":6},{"t":19.7,"v":-4},{"t":19.74,"v":10},{"t":19.78,"v":-20},{"t":19.82,"v":2},{"t":19.86,"v":8},{"t":19.9,"v":-12},{"t":19.94,"v":4},{"t":19.98,"v":-25},{"t":20.02,"v":12},{"t":20.06,"v":6},{"t":20.1,"v":-4},{"t":20.14,"v":10},{"t":20.18,"v":-20},{"t":20.22,"v":2},{"t":20.26,"v":8},{"t":20.3,"v":-12},{"t":20.34,"v":4},{"t":20.38,"v":-25},{"t":20.42,"v":12},{"t":20.46,"v":6},{"t":20.5,"v":-4},{"t":20.54,"v":10},{"t":20.58,"v":-20},{"t":20.62,"v":2},{"t":20.66,"v":8},{"t":20.7,"v":-12},{"t":20.74,"v":4},{"t":20.78,"v":-25},{"t":20.82,"v":12},{"t":20.86,"v":6},{"t":20.9,"v":-4},{"t":20.94,"v":10},{"t":20.98,"v":-20},{"t":21.02,"v":2},{"t":21.06,"v":8},{"t":21.1,"v":-12},{"t":21.14,"v":4},{"t":21.18,"v":-25},{"t":21.22,"v":12},{"t":21.26,"v":6},{"t":21.3,"v":-4},{"t":21.34,"v":10},{"t":21.38,"v":-20},{"t":21.42,"v":2},{"t":21.46,"v":8},{"t":21.5,"v":-12},{"t":21.54,"v":4},{"t":21.58,"v":-25},{"t":21.62,"v":12},{"t":21.66,"v":6},{"t":21.7,"v":-4},{"t":21.74,"v":10},{"t":21.78,"v":-20},{"t":21.82,"v":2},{"t":21.86,"v":8},{"t":21.9,"v":-12},{"t":21.94,"v":4},{"t":21.98,"v":-25},{"t":22.02,"v":12},{"t":22.06,"v":6},{"t":22.1,"v":-4},{"t":22.14,"v":10},{"t":22.18,"v":-20},{"t":22.22,"v":2},{"t":22.26,"v":8},{"t":22.3,"v":-12},{"t":22.34,"v":4},{"t":22.38,"v":-25},{"t":22.42,"v":12},{"t":22.46,"v":6},{"t":22.5,"v":-4},{"t":22.54,"v":10}
]
},
"bounds":"flush",
"spacing":5.5,
"vconcat":[
{"width":1289,"height":157,"data":{"name":"za"},
"title":{"text":"WB-ZC (2-7)","anchor":"start","frame":"group","orient":"top","offset":0,"dx":18,"dy":41,"baseline":"middle","fontSize":23,"fontWeight":"bold","font":"Liberation Sans","color":"#000000"},
"layer":[
{"mark":{"type":"point","shape":"M-1,-1L1,1M-1,1L1,-1","filled":false,"stroke":"#000000","strokeWidth":1.2,"size":70,"opacity":1,"clip":true},
"encoding":{"x":{"field":"t","type":"quantitative","scale":{"domain":[16.354,22.698],"nice":false,"zero":false},"axis":{"orient":"bottom","values":[17,18,19,20,21,22],"labels":false,"title":null,"tickColor":"#333333"}},
"y":{"field":"v","type":"quantitative","scale":{"domain":[0,940],"nice":false,"zero":false},"axis":{"orient":"left","values":[0,200,400,600,800],"title":null,"tickColor":"#777777","labelPadding":27}}}},
{"mark":{"type":"point","opacity":0},
"encoding":{"x":{"field":"t","type":"quantitative","scale":{"domain":[16.354,22.698],"nice":false,"zero":false},"axis":{"orient":"top","values":[17,18,19,20,21,22],"labels":false,"title":"CH 1","titleFontSize":22,"titleAnchor":"end","titleAlign":"right","titleBaseline":"middle","titleAngle":0,"titleX":1277,"titleY":16,"tickColor":"#333333"}},
"y":{"field":"v","type":"quantitative","scale":{"domain":[0,940],"nice":false,"zero":false},"axis":{"orient":"right","values":[0,200,400,600,800],"labels":false,"title":null,"tickColor":"#777777"}}}}
],
"resolve":{"axis":{"x":"independent","y":"independent"}}},
{"width":1289,"height":160,"data":{"name":"zp"},
"layer":[
{"mark":{"type":"point","shape":"M-1,-1L1,1M-1,1L1,-1","filled":false,"stroke":"#000000","strokeWidth":1.2,"size":70,"opacity":1,"clip":true},
"encoding":{"x":{"field":"t","type":"quantitative","scale":{"domain":[16.354,22.698],"nice":false,"zero":false},"axis":{"orient":"bottom","values":[17,18,19,20,21,22],"labels":false,"title":null,"tickColor":"#333333"}},
"y":{"field":"v","type":"quantitative","scale":{"domain":[-180,180],"nice":false,"zero":false},"axis":{"orient":"left","values":[-100,0,100],"labelExpr":"(datum.value < 0 ? '-' : '') + abs(datum.value)","title":null,"tickColor":"#777777","labelPadding":27}}}},
{"mark":{"type":"point","opacity":0},
"encoding":{"x":{"field":"t","type":"quantitative","scale":{"domain":[16.354,22.698],"nice":false,"zero":false},"axis":{"orient":"top","values":[17,18,19,20,21,22],"labels":false,"title":null,"tickColor":"#333333"}},
"y":{"field":"v","type":"quantitative","scale":{"domain":[-180,180],"nice":false,"zero":false},"axis":{"orient":"right","values":[-100,0,100],"labels":false,"title":null,"tickColor":"#777777"}}}}
],
"resolve":{"axis":{"x":"independent","y":"independent"}}},
{"width":1289,"height":157,"data":{"name":"ba"},
"title":{"text":"WB-BD (2-8)","anchor":"start","frame":"group","orient":"top","offset":0,"dx":18,"dy":41,"baseline":"middle","fontSize":23,"fontWeight":"bold","font":"Liberation Sans","color":"#000000"},
"layer":[
{"mark":{"type":"point","shape":"M-1,-1L1,1M-1,1L1,-1","filled":false,"stroke":"#000000","strokeWidth":1.2,"size":70,"opacity":1,"clip":true},
"encoding":{"x":{"field":"t","type":"quantitative","scale":{"domain":[16.354,22.698],"nice":false,"zero":false},"axis":{"orient":"bottom","values":[17,18,19,20,21,22],"labels":false,"title":null,"tickColor":"#333333"}},
"y":{"field":"v","type":"quantitative","scale":{"domain":[0,940],"nice":false,"zero":false},"axis":{"orient":"left","values":[0,200,400,600,800],"title":"MilliJanskys","titlePadding":24,"tickColor":"#777777","labelPadding":27}}}},
{"mark":{"type":"point","opacity":0},
"encoding":{"x":{"field":"t","type":"quantitative","scale":{"domain":[16.354,22.698],"nice":false,"zero":false},"axis":{"orient":"top","values":[17,18,19,20,21,22],"labels":false,"title":"CH 1","titleFontSize":22,"titleAnchor":"end","titleAlign":"right","titleBaseline":"middle","titleAngle":0,"titleX":1277,"titleY":16,"tickColor":"#333333"}},
"y":{"field":"v","type":"quantitative","scale":{"domain":[0,940],"nice":false,"zero":false},"axis":{"orient":"right","values":[0,200,400,600,800],"labels":false,"title":null,"tickColor":"#777777"}}}}
],
"resolve":{"axis":{"x":"independent","y":"independent"}}},
{"width":1289,"height":160,"data":{"name":"bp"},
"layer":[
{"mark":{"type":"point","shape":"M-1,-1L1,1M-1,1L1,-1","filled":false,"stroke":"#000000","strokeWidth":1.2,"size":70,"opacity":1,"clip":true},
"encoding":{"x":{"field":"t","type":"quantitative","scale":{"domain":[16.354,22.698],"nice":false,"zero":false},"axis":{"orient":"bottom","values":[17,18,19,20,21,22],"labels":false,"title":null,"tickColor":"#333333"}},
"y":{"field":"v","type":"quantitative","scale":{"domain":[-180,180],"nice":false,"zero":false},"axis":{"orient":"left","values":[-100,0,100],"labelExpr":"(datum.value < 0 ? '-' : '') + abs(datum.value)","title":null,"tickColor":"#777777","labelPadding":27}}}},
{"mark":{"type":"point","opacity":0},
"encoding":{"x":{"field":"t","type":"quantitative","scale":{"domain":[16.354,22.698],"nice":false,"zero":false},"axis":{"orient":"top","values":[17,18,19,20,21,22],"labels":false,"title":null,"tickColor":"#333333"}},
"y":{"field":"v","type":"quantitative","scale":{"domain":[-180,180],"nice":false,"zero":false},"axis":{"orient":"right","values":[-100,0,100],"labels":false,"title":null,"tickColor":"#777777"}}}}
],
"resolve":{"axis":{"x":"independent","y":"independent"}}},
{"width":1289,"height":157,"data":{"name":"ja"},
"title":{"text":"WB-JB (2-9)","anchor":"start","frame":"group","orient":"top","offset":0,"dx":18,"dy":41,"baseline":"middle","fontSize":23,"fontWeight":"bold","font":"Liberation Sans","color":"#000000"},
"layer":[
{"mark":{"type":"point","shape":"M-1,-1L1,1M-1,1L1,-1","filled":false,"stroke":"#000000","strokeWidth":1.2,"size":70,"opacity":1,"clip":true},
"encoding":{"x":{"field":"t","type":"quantitative","scale":{"domain":[16.354,22.698],"nice":false,"zero":false},"axis":{"orient":"bottom","values":[17,18,19,20,21,22],"labels":false,"title":null,"tickColor":"#333333"}},
"y":{"field":"v","type":"quantitative","scale":{"domain":[0,940],"nice":false,"zero":false},"axis":{"orient":"left","values":[0,200,400,600,800],"title":null,"tickColor":"#777777","labelPadding":27}}}},
{"mark":{"type":"point","opacity":0},
"encoding":{"x":{"field":"t","type":"quantitative","scale":{"domain":[16.354,22.698],"nice":false,"zero":false},"axis":{"orient":"top","values":[17,18,19,20,21,22],"labels":false,"title":"CH 1","titleFontSize":22,"titleAnchor":"end","titleAlign":"right","titleBaseline":"middle","titleAngle":0,"titleX":1277,"titleY":16,"tickColor":"#333333"}},
"y":{"field":"v","type":"quantitative","scale":{"domain":[0,940],"nice":false,"zero":false},"axis":{"orient":"right","values":[0,200,400,600,800],"labels":false,"title":null,"tickColor":"#777777"}}}}
],
"resolve":{"axis":{"x":"independent","y":"independent"}}},
{"width":1289,"height":160,"data":{"name":"jp"},
"layer":[
{"mark":{"type":"point","shape":"M-1,-1L1,1M-1,1L1,-1","filled":false,"stroke":"#000000","strokeWidth":1.2,"size":70,"opacity":1,"clip":true},
"encoding":{"x":{"field":"t","type":"quantitative","scale":{"domain":[16.354,22.698],"nice":false,"zero":false},"axis":{"orient":"bottom","values":[17,18,19,20,21,22],"labels":true,"labelPadding":29,"title":"TIME (HOURS)","titlePadding":0,"tickColor":"#333333"}},
"y":{"field":"v","type":"quantitative","scale":{"domain":[-180,180],"nice":false,"zero":false},"axis":{"orient":"left","values":[-100,0,100],"labelExpr":"(datum.value < 0 ? '-' : '') + abs(datum.value)","title":"Degrees","titlePadding":17,"tickColor":"#777777","labelPadding":27}}}},
{"mark":{"type":"point","opacity":0},
"encoding":{"x":{"field":"t","type":"quantitative","scale":{"domain":[16.354,22.698],"nice":false,"zero":false},"axis":{"orient":"top","values":[17,18,19,20,21,22],"labels":false,"title":null,"tickColor":"#333333"}},
"y":{"field":"v","type":"quantitative","scale":{"domain":[-180,180],"nice":false,"zero":false},"axis":{"orient":"right","values":[-100,0,100],"labels":false,"title":null,"tickColor":"#777777"}}}}
],
"resolve":{"axis":{"x":"independent","y":"independent"}}}
]
}
